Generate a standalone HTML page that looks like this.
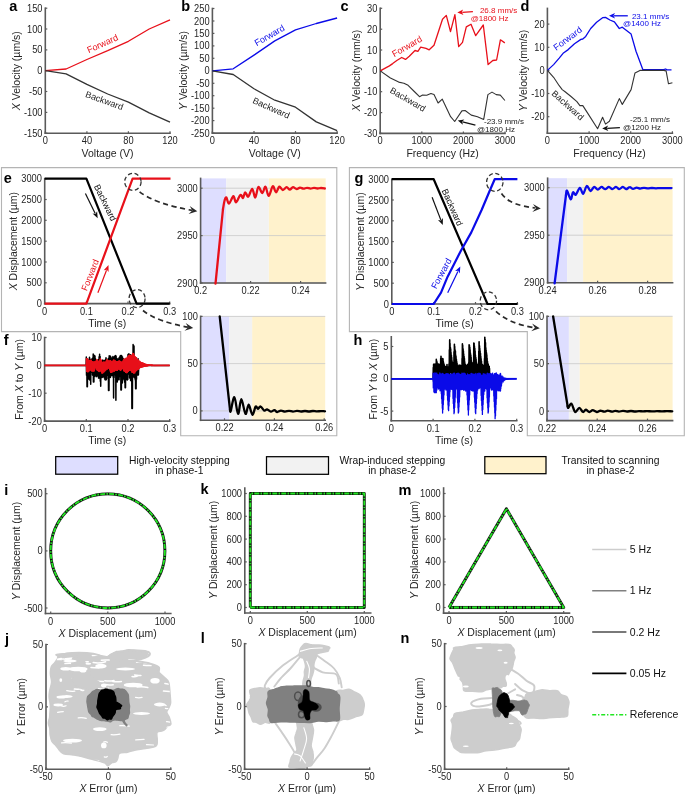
<!DOCTYPE html>
<html><head><meta charset="utf-8"><style>
html,body{margin:0;padding:0;background:#fff;width:685px;height:797px;overflow:hidden}
svg{position:absolute;left:0;top:0;font-family:"Liberation Sans",sans-serif;will-change:transform}
</style></head><body>
<svg width="685" height="797" viewBox="0 0 685 797">
<line x1="45.3" y1="133.2" x2="170" y2="133.2" stroke="#5a5a5a" stroke-width="1.6" stroke-linecap="square"/>
<line x1="45.3" y1="133.2" x2="45.3" y2="8.2" stroke="#5a5a5a" stroke-width="1.6" stroke-linecap="square"/>
<line x1="45.3" y1="133.2" x2="45.3" y2="131.2" stroke="#5a5a5a" stroke-width="1.2"/>
<text x="0" y="0" font-size="9.3" text-anchor="middle" fill="#262626" transform="translate(45.3 144.2) scale(1 1.11)">0</text>
<line x1="86.9" y1="133.2" x2="86.9" y2="131.2" stroke="#5a5a5a" stroke-width="1.2"/>
<text x="0" y="0" font-size="9.3" text-anchor="middle" fill="#262626" transform="translate(86.9 144.2) scale(1 1.11)">40</text>
<line x1="128.4" y1="133.2" x2="128.4" y2="131.2" stroke="#5a5a5a" stroke-width="1.2"/>
<text x="0" y="0" font-size="9.3" text-anchor="middle" fill="#262626" transform="translate(128.4 144.2) scale(1 1.11)">80</text>
<line x1="170" y1="133.2" x2="170" y2="131.2" stroke="#5a5a5a" stroke-width="1.2"/>
<text x="0" y="0" font-size="9.3" text-anchor="middle" fill="#262626" transform="translate(170 144.2) scale(1 1.11)">120</text>
<line x1="45.3" y1="133.2" x2="47.3" y2="133.2" stroke="#5a5a5a" stroke-width="1.2"/>
<text x="0" y="0" font-size="9.3" text-anchor="end" fill="#262626" transform="translate(42.5 136.7) scale(1 1.11)">-150</text>
<line x1="45.3" y1="112.4" x2="47.3" y2="112.4" stroke="#5a5a5a" stroke-width="1.2"/>
<text x="0" y="0" font-size="9.3" text-anchor="end" fill="#262626" transform="translate(42.5 115.9) scale(1 1.11)">-100</text>
<line x1="45.3" y1="91.5" x2="47.3" y2="91.5" stroke="#5a5a5a" stroke-width="1.2"/>
<text x="0" y="0" font-size="9.3" text-anchor="end" fill="#262626" transform="translate(42.5 95) scale(1 1.11)">-50</text>
<line x1="45.3" y1="70.7" x2="47.3" y2="70.7" stroke="#5a5a5a" stroke-width="1.2"/>
<text x="0" y="0" font-size="9.3" text-anchor="end" fill="#262626" transform="translate(42.5 74.2) scale(1 1.11)">0</text>
<line x1="45.3" y1="49.9" x2="47.3" y2="49.9" stroke="#5a5a5a" stroke-width="1.2"/>
<text x="0" y="0" font-size="9.3" text-anchor="end" fill="#262626" transform="translate(42.5 53.4) scale(1 1.11)">50</text>
<line x1="45.3" y1="29" x2="47.3" y2="29" stroke="#5a5a5a" stroke-width="1.2"/>
<text x="0" y="0" font-size="9.3" text-anchor="end" fill="#262626" transform="translate(42.5 32.5) scale(1 1.11)">100</text>
<line x1="45.3" y1="8.2" x2="47.3" y2="8.2" stroke="#5a5a5a" stroke-width="1.2"/>
<text x="0" y="0" font-size="9.3" text-anchor="end" fill="#262626" transform="translate(42.5 11.7) scale(1 1.11)">150</text>
<text x="107.6" y="157" font-size="10.5" text-anchor="middle" fill="#262626">Voltage (V)</text>
<text x="0" y="0" font-size="10.5" text-anchor="middle" fill="#262626" transform="translate(20 70.7) rotate(-90)"><tspan font-style="italic">X</tspan> Velocity (µm/s)</text>
<text x="9.2" y="10.8" font-size="14.5" font-weight="bold" fill="#000">a</text>
<path d="M45.3 70.7 L66.1 69 L86.9 59.5 L107.7 50.7 L128.4 41.3 L149.2 29 L170 19.9" fill="none" stroke="#e8101a" stroke-width="1.3" stroke-linejoin="round"/>
<path d="M45.3 70.7 L66.1 73.8 L86.9 84.4 L107.7 94 L128.4 102.2 L149.2 112.8 L170 122.2" fill="none" stroke="#333333" stroke-width="1.3" stroke-linejoin="round"/>
<text x="0" y="0" font-size="9" text-anchor="middle" fill="#e8101a" transform="translate(103.8 46.5) rotate(-24)">Forward</text>
<text x="0" y="0" font-size="9" text-anchor="middle" fill="#222" transform="translate(103.3 103.5) rotate(20)">Backward</text>
<line x1="212.4" y1="133.1" x2="337.1" y2="133.1" stroke="#5a5a5a" stroke-width="1.6" stroke-linecap="square"/>
<line x1="212.4" y1="133.1" x2="212.4" y2="8.5" stroke="#5a5a5a" stroke-width="1.6" stroke-linecap="square"/>
<line x1="212.4" y1="133.1" x2="212.4" y2="131.1" stroke="#5a5a5a" stroke-width="1.2"/>
<text x="0" y="0" font-size="9.3" text-anchor="middle" fill="#262626" transform="translate(212.4 144.1) scale(1 1.11)">0</text>
<line x1="254" y1="133.1" x2="254" y2="131.1" stroke="#5a5a5a" stroke-width="1.2"/>
<text x="0" y="0" font-size="9.3" text-anchor="middle" fill="#262626" transform="translate(254 144.1) scale(1 1.11)">40</text>
<line x1="295.5" y1="133.1" x2="295.5" y2="131.1" stroke="#5a5a5a" stroke-width="1.2"/>
<text x="0" y="0" font-size="9.3" text-anchor="middle" fill="#262626" transform="translate(295.5 144.1) scale(1 1.11)">80</text>
<line x1="337.1" y1="133.1" x2="337.1" y2="131.1" stroke="#5a5a5a" stroke-width="1.2"/>
<text x="0" y="0" font-size="9.3" text-anchor="middle" fill="#262626" transform="translate(337.1 144.1) scale(1 1.11)">120</text>
<line x1="212.4" y1="133.1" x2="214.4" y2="133.1" stroke="#5a5a5a" stroke-width="1.2"/>
<text x="0" y="0" font-size="9.3" text-anchor="end" fill="#262626" transform="translate(209.6 136.6) scale(1 1.11)">-250</text>
<line x1="212.4" y1="120.6" x2="214.4" y2="120.6" stroke="#5a5a5a" stroke-width="1.2"/>
<text x="0" y="0" font-size="9.3" text-anchor="end" fill="#262626" transform="translate(209.6 124.1) scale(1 1.11)">-200</text>
<line x1="212.4" y1="108.2" x2="214.4" y2="108.2" stroke="#5a5a5a" stroke-width="1.2"/>
<text x="0" y="0" font-size="9.3" text-anchor="end" fill="#262626" transform="translate(209.6 111.7) scale(1 1.11)">-150</text>
<line x1="212.4" y1="95.7" x2="214.4" y2="95.7" stroke="#5a5a5a" stroke-width="1.2"/>
<text x="0" y="0" font-size="9.3" text-anchor="end" fill="#262626" transform="translate(209.6 99.2) scale(1 1.11)">-100</text>
<line x1="212.4" y1="83.3" x2="214.4" y2="83.3" stroke="#5a5a5a" stroke-width="1.2"/>
<text x="0" y="0" font-size="9.3" text-anchor="end" fill="#262626" transform="translate(209.6 86.8) scale(1 1.11)">-50</text>
<line x1="212.4" y1="70.8" x2="214.4" y2="70.8" stroke="#5a5a5a" stroke-width="1.2"/>
<text x="0" y="0" font-size="9.3" text-anchor="end" fill="#262626" transform="translate(209.6 74.3) scale(1 1.11)">0</text>
<line x1="212.4" y1="58.3" x2="214.4" y2="58.3" stroke="#5a5a5a" stroke-width="1.2"/>
<text x="0" y="0" font-size="9.3" text-anchor="end" fill="#262626" transform="translate(209.6 61.8) scale(1 1.11)">50</text>
<line x1="212.4" y1="45.9" x2="214.4" y2="45.9" stroke="#5a5a5a" stroke-width="1.2"/>
<text x="0" y="0" font-size="9.3" text-anchor="end" fill="#262626" transform="translate(209.6 49.4) scale(1 1.11)">100</text>
<line x1="212.4" y1="33.4" x2="214.4" y2="33.4" stroke="#5a5a5a" stroke-width="1.2"/>
<text x="0" y="0" font-size="9.3" text-anchor="end" fill="#262626" transform="translate(209.6 36.9) scale(1 1.11)">150</text>
<line x1="212.4" y1="21" x2="214.4" y2="21" stroke="#5a5a5a" stroke-width="1.2"/>
<text x="0" y="0" font-size="9.3" text-anchor="end" fill="#262626" transform="translate(209.6 24.5) scale(1 1.11)">200</text>
<line x1="212.4" y1="8.5" x2="214.4" y2="8.5" stroke="#5a5a5a" stroke-width="1.2"/>
<text x="0" y="0" font-size="9.3" text-anchor="end" fill="#262626" transform="translate(209.6 12) scale(1 1.11)">250</text>
<text x="274.7" y="157" font-size="10.5" text-anchor="middle" fill="#262626">Voltage (V)</text>
<text x="0" y="0" font-size="10.5" text-anchor="middle" fill="#262626" transform="translate(187 70.5) rotate(-90)"><tspan font-style="italic">Y</tspan> Velocity (µm/s)</text>
<text x="181.3" y="11" font-size="14.5" font-weight="bold" fill="#000">b</text>
<path d="M212.4 70.8 L233.2 68.8 L254 55.1 L274.8 40.9 L295.5 29.9 L316.3 23.5 L337.1 18" fill="none" stroke="#0a0ae8" stroke-width="1.3" stroke-linejoin="round"/>
<path d="M212.4 70.8 L233.2 74.5 L254 88.7 L274.8 100.2 L295.5 107.2 L316.3 121.9 L337.1 130.6" fill="none" stroke="#333333" stroke-width="1.3" stroke-linejoin="round"/>
<text x="0" y="0" font-size="9" text-anchor="middle" fill="#0a0ae8" transform="translate(271 38) rotate(-30)">Forward</text>
<text x="0" y="0" font-size="9" text-anchor="middle" fill="#222" transform="translate(270 110.8) rotate(24)">Backward</text>
<line x1="380.2" y1="133.4" x2="505" y2="133.4" stroke="#5a5a5a" stroke-width="1.6" stroke-linecap="square"/>
<line x1="380.2" y1="133.4" x2="380.2" y2="8.3" stroke="#5a5a5a" stroke-width="1.6" stroke-linecap="square"/>
<line x1="380.2" y1="133.4" x2="380.2" y2="131.4" stroke="#5a5a5a" stroke-width="1.2"/>
<text x="0" y="0" font-size="9.3" text-anchor="middle" fill="#262626" transform="translate(380.2 144.4) scale(1 1.11)">0</text>
<line x1="421.8" y1="133.4" x2="421.8" y2="131.4" stroke="#5a5a5a" stroke-width="1.2"/>
<text x="0" y="0" font-size="9.3" text-anchor="middle" fill="#262626" transform="translate(421.8 144.4) scale(1 1.11)">1000</text>
<line x1="463.4" y1="133.4" x2="463.4" y2="131.4" stroke="#5a5a5a" stroke-width="1.2"/>
<text x="0" y="0" font-size="9.3" text-anchor="middle" fill="#262626" transform="translate(463.4 144.4) scale(1 1.11)">2000</text>
<line x1="505" y1="133.4" x2="505" y2="131.4" stroke="#5a5a5a" stroke-width="1.2"/>
<text x="0" y="0" font-size="9.3" text-anchor="middle" fill="#262626" transform="translate(505 144.4) scale(1 1.11)">3000</text>
<line x1="380.2" y1="133.4" x2="382.2" y2="133.4" stroke="#5a5a5a" stroke-width="1.2"/>
<text x="0" y="0" font-size="9.3" text-anchor="end" fill="#262626" transform="translate(377.4 136.9) scale(1 1.11)">-30</text>
<line x1="380.2" y1="112.6" x2="382.2" y2="112.6" stroke="#5a5a5a" stroke-width="1.2"/>
<text x="0" y="0" font-size="9.3" text-anchor="end" fill="#262626" transform="translate(377.4 116.1) scale(1 1.11)">-20</text>
<line x1="380.2" y1="91.7" x2="382.2" y2="91.7" stroke="#5a5a5a" stroke-width="1.2"/>
<text x="0" y="0" font-size="9.3" text-anchor="end" fill="#262626" transform="translate(377.4 95.2) scale(1 1.11)">-10</text>
<line x1="380.2" y1="70.9" x2="382.2" y2="70.9" stroke="#5a5a5a" stroke-width="1.2"/>
<text x="0" y="0" font-size="9.3" text-anchor="end" fill="#262626" transform="translate(377.4 74.4) scale(1 1.11)">0</text>
<line x1="380.2" y1="50" x2="382.2" y2="50" stroke="#5a5a5a" stroke-width="1.2"/>
<text x="0" y="0" font-size="9.3" text-anchor="end" fill="#262626" transform="translate(377.4 53.5) scale(1 1.11)">10</text>
<line x1="380.2" y1="29.2" x2="382.2" y2="29.2" stroke="#5a5a5a" stroke-width="1.2"/>
<text x="0" y="0" font-size="9.3" text-anchor="end" fill="#262626" transform="translate(377.4 32.7) scale(1 1.11)">20</text>
<line x1="380.2" y1="8.3" x2="382.2" y2="8.3" stroke="#5a5a5a" stroke-width="1.2"/>
<text x="0" y="0" font-size="9.3" text-anchor="end" fill="#262626" transform="translate(377.4 11.8) scale(1 1.11)">30</text>
<text x="442.6" y="157" font-size="10.5" text-anchor="middle" fill="#262626">Frequency (Hz)</text>
<text x="0" y="0" font-size="10.5" text-anchor="middle" fill="#262626" transform="translate(360 70.5) rotate(-90)"><tspan font-style="italic">X</tspan> Velocity (mm/s)</text>
<text x="340.5" y="10.8" font-size="14.5" font-weight="bold" fill="#000">c</text>
<path d="M380.2 70.9 L384.8 68.4 L389.4 65.9 L392.7 63.6 L396.8 60.5 L401.7 57.5 L405.5 59.4 L409.3 56.3 L415 50.5 L417.9 51.3 L420.7 47.1 L426 48.4 L429.2 49.8 L434 45.2 L442.5 19.2 L446.3 15.4 L450.5 31.7 L454.9 14.6 L458.7 46.7 L462.5 42.3 L466.3 26.9 L471 24.2 L475.7 35.7 L483.3 25 L488.1 64.6 L492.8 60.5 L496.6 60 L500.4 39.8 L504.8 42.9" fill="none" stroke="#e8101a" stroke-width="1.3" stroke-linejoin="round"/>
<path d="M380.2 70.9 L390.4 78 L398.7 82.1 L403.9 83.2 L408.1 85.3 L414.3 91.5 L419.5 96.7 L422.6 95.1 L426.7 95.3 L430.9 93.6 L434 94.6 L438.1 103 L442.3 99.2 L450.6 116.7 L454.7 121.5 L461.9 110.9 L465.1 110.5 L471.3 115.1 L477.5 116.7 L483.7 119.4 L487.9 94.6 L492 92.1 L496.2 94.6 L500.3 95.1 L504.9 100.5" fill="none" stroke="#333333" stroke-width="1.1" stroke-linejoin="round"/>
<text x="0" y="0" font-size="9" text-anchor="middle" fill="#e8101a" transform="translate(408.5 48.9) rotate(-30)">Forward</text>
<text x="0" y="0" font-size="9" text-anchor="middle" fill="#222" transform="translate(406.3 102.2) rotate(30)">Backward</text>
<line x1="472.9" y1="11.6" x2="462.3" y2="12.3" stroke="#e8101a" stroke-width="1.3"/>
<path d="M457.3 12.6 L463.1 9.4 L461.8 12.3 L463.5 15 Z" fill="#e8101a"/>
<text x="498.6" y="13" font-size="8" text-anchor="middle" fill="#e8101a">26.8 mm/s</text>
<text x="489.6" y="21" font-size="8" text-anchor="middle" fill="#e8101a">@1800 Hz</text>
<line x1="475.4" y1="125.1" x2="462.6" y2="121.8" stroke="#111" stroke-width="1.3"/>
<path d="M457.8 120.6 L464.3 119.4 L462.2 121.7 L462.9 124.8 Z" fill="#111"/>
<text x="484" y="123.8" font-size="8" text-anchor="start" fill="#222">-23.9 mm/s</text>
<text x="477" y="131.6" font-size="8" text-anchor="start" fill="#222">@1800 Hz</text>
<line x1="547.4" y1="133.2" x2="672.4" y2="133.2" stroke="#5a5a5a" stroke-width="1.6" stroke-linecap="square"/>
<line x1="547.4" y1="133.2" x2="547.4" y2="8.4" stroke="#5a5a5a" stroke-width="1.6" stroke-linecap="square"/>
<line x1="547.4" y1="133.2" x2="547.4" y2="131.2" stroke="#5a5a5a" stroke-width="1.2"/>
<text x="0" y="0" font-size="9.3" text-anchor="middle" fill="#262626" transform="translate(547.4 144.2) scale(1 1.11)">0</text>
<line x1="589.1" y1="133.2" x2="589.1" y2="131.2" stroke="#5a5a5a" stroke-width="1.2"/>
<text x="0" y="0" font-size="9.3" text-anchor="middle" fill="#262626" transform="translate(589.1 144.2) scale(1 1.11)">1000</text>
<line x1="630.7" y1="133.2" x2="630.7" y2="131.2" stroke="#5a5a5a" stroke-width="1.2"/>
<text x="0" y="0" font-size="9.3" text-anchor="middle" fill="#262626" transform="translate(630.7 144.2) scale(1 1.11)">2000</text>
<line x1="672.4" y1="133.2" x2="672.4" y2="131.2" stroke="#5a5a5a" stroke-width="1.2"/>
<text x="0" y="0" font-size="9.3" text-anchor="middle" fill="#262626" transform="translate(672.4 144.2) scale(1 1.11)">3000</text>
<line x1="547.4" y1="116.7" x2="549.4" y2="116.7" stroke="#5a5a5a" stroke-width="1.2"/>
<text x="0" y="0" font-size="9.3" text-anchor="end" fill="#262626" transform="translate(544.6 120.2) scale(1 1.11)">-20</text>
<line x1="547.4" y1="93.5" x2="549.4" y2="93.5" stroke="#5a5a5a" stroke-width="1.2"/>
<text x="0" y="0" font-size="9.3" text-anchor="end" fill="#262626" transform="translate(544.6 97) scale(1 1.11)">-10</text>
<line x1="547.4" y1="70.4" x2="549.4" y2="70.4" stroke="#5a5a5a" stroke-width="1.2"/>
<text x="0" y="0" font-size="9.3" text-anchor="end" fill="#262626" transform="translate(544.6 73.9) scale(1 1.11)">0</text>
<line x1="547.4" y1="47.3" x2="549.4" y2="47.3" stroke="#5a5a5a" stroke-width="1.2"/>
<text x="0" y="0" font-size="9.3" text-anchor="end" fill="#262626" transform="translate(544.6 50.8) scale(1 1.11)">10</text>
<line x1="547.4" y1="24.1" x2="549.4" y2="24.1" stroke="#5a5a5a" stroke-width="1.2"/>
<text x="0" y="0" font-size="9.3" text-anchor="end" fill="#262626" transform="translate(544.6 27.6) scale(1 1.11)">20</text>
<text x="609.5" y="157" font-size="10.5" text-anchor="middle" fill="#262626">Frequency (Hz)</text>
<text x="0" y="0" font-size="10.5" text-anchor="middle" fill="#262626" transform="translate(527.2 70.5) rotate(-90)"><tspan font-style="italic">Y</tspan> Velocity (mm/s)</text>
<text x="520.5" y="10.8" font-size="14.5" font-weight="bold" fill="#000">d</text>
<path d="M547.4 70.4 L553.6 64.6 L559.2 58.1 L563.1 53.3 L568.2 49.6 L574.5 43.8 L580.9 39.4 L582.8 39 L585.7 36.4 L590.7 28.5 L596.6 22.3 L602.6 17.7 L605.5 17.4 L609.9 20 L614.4 21.8 L619.3 28.5 L622.3 27.2 L631.1 34.1 L636 51.2 L642.9 69.7 L663.6 69.7 L665.6 69 L667 69.9 L671.5 69.9" fill="none" stroke="#0a0ae8" stroke-width="1.3" stroke-linejoin="round"/>
<path d="M547.4 70.4 L553.6 77.3 L559.2 85.7 L562.2 89.6 L565.1 91.7 L571 96.5 L576.9 101.6 L579.9 105.6 L582.8 105.6 L587.8 113.4 L597.6 128.7 L602.6 117.3 L605.5 124.1 L609.4 121.3 L619.3 98.6 L622.3 104.4 L631.1 89.6 L635 72.9 L639.9 70.4 L663.6 70.4 L666.1 70.9 L668.5 83.8 L672.4 82.7" fill="none" stroke="#333333" stroke-width="1.1" stroke-linejoin="round"/>
<text x="0" y="0" font-size="9" text-anchor="middle" fill="#0a0ae8" transform="translate(569.5 41) rotate(-37)">Forward</text>
<text x="0" y="0" font-size="9" text-anchor="middle" fill="#222" transform="translate(565.8 107.5) rotate(42)">Backward</text>
<line x1="627.8" y1="15.8" x2="614" y2="15.8" stroke="#0a0ae8" stroke-width="1.3"/>
<path d="M609 15.8 L615 13 L613.5 15.8 L615 18.6 Z" fill="#0a0ae8"/>
<text x="650.6" y="18.6" font-size="8" text-anchor="middle" fill="#0a0ae8">23.1 mm/s</text>
<text x="642" y="26.4" font-size="8" text-anchor="middle" fill="#0a0ae8">@1400 Hz</text>
<line x1="619.9" y1="127.7" x2="607.2" y2="128.3" stroke="#111" stroke-width="1.3"/>
<path d="M602.2 128.5 L608.1 125.4 L606.7 128.3 L608.3 131 Z" fill="#111"/>
<text x="650" y="121.6" font-size="8" text-anchor="middle" fill="#222">-25.1 mm/s</text>
<text x="642" y="129.6" font-size="8" text-anchor="middle" fill="#222">@1200 Hz</text>
<path d="M1.5 167.6 H336.8 V435.8 H180.7 V331.6 H1.5 Z" fill="none" stroke="#b4b4b4" stroke-width="1.1"/>
<path d="M349.4 167.6 H684.3 V435.8 H527.3 V331.6 H349.4 Z" fill="none" stroke="#b4b4b4" stroke-width="1.1"/>
<line x1="44.7" y1="303.6" x2="169.7" y2="303.6" stroke="#5a5a5a" stroke-width="1.6" stroke-linecap="square"/>
<line x1="44.7" y1="303.6" x2="44.7" y2="178.7" stroke="#5a5a5a" stroke-width="1.6" stroke-linecap="square"/>
<line x1="44.7" y1="303.6" x2="44.7" y2="301.6" stroke="#5a5a5a" stroke-width="1.2"/>
<text x="0" y="0" font-size="9.3" text-anchor="middle" fill="#262626" transform="translate(44.7 314.6) scale(1 1.11)">0</text>
<line x1="86.4" y1="303.6" x2="86.4" y2="301.6" stroke="#5a5a5a" stroke-width="1.2"/>
<text x="0" y="0" font-size="9.3" text-anchor="middle" fill="#262626" transform="translate(86.4 314.6) scale(1 1.11)">0.1</text>
<line x1="128" y1="303.6" x2="128" y2="301.6" stroke="#5a5a5a" stroke-width="1.2"/>
<text x="0" y="0" font-size="9.3" text-anchor="middle" fill="#262626" transform="translate(128 314.6) scale(1 1.11)">0.2</text>
<line x1="169.7" y1="303.6" x2="169.7" y2="301.6" stroke="#5a5a5a" stroke-width="1.2"/>
<text x="0" y="0" font-size="9.3" text-anchor="middle" fill="#262626" transform="translate(169.7 314.6) scale(1 1.11)">0.3</text>
<line x1="44.7" y1="303.6" x2="46.7" y2="303.6" stroke="#5a5a5a" stroke-width="1.2"/>
<text x="0" y="0" font-size="9.3" text-anchor="end" fill="#262626" transform="translate(41.9 307.1) scale(1 1.11)">0</text>
<line x1="44.7" y1="282.8" x2="46.7" y2="282.8" stroke="#5a5a5a" stroke-width="1.2"/>
<text x="0" y="0" font-size="9.3" text-anchor="end" fill="#262626" transform="translate(41.9 286.3) scale(1 1.11)">500</text>
<line x1="44.7" y1="262" x2="46.7" y2="262" stroke="#5a5a5a" stroke-width="1.2"/>
<text x="0" y="0" font-size="9.3" text-anchor="end" fill="#262626" transform="translate(41.9 265.5) scale(1 1.11)">1000</text>
<line x1="44.7" y1="241.2" x2="46.7" y2="241.2" stroke="#5a5a5a" stroke-width="1.2"/>
<text x="0" y="0" font-size="9.3" text-anchor="end" fill="#262626" transform="translate(41.9 244.7) scale(1 1.11)">1500</text>
<line x1="44.7" y1="220.3" x2="46.7" y2="220.3" stroke="#5a5a5a" stroke-width="1.2"/>
<text x="0" y="0" font-size="9.3" text-anchor="end" fill="#262626" transform="translate(41.9 223.8) scale(1 1.11)">2000</text>
<line x1="44.7" y1="199.5" x2="46.7" y2="199.5" stroke="#5a5a5a" stroke-width="1.2"/>
<text x="0" y="0" font-size="9.3" text-anchor="end" fill="#262626" transform="translate(41.9 203) scale(1 1.11)">2500</text>
<line x1="44.7" y1="178.7" x2="46.7" y2="178.7" stroke="#5a5a5a" stroke-width="1.2"/>
<text x="0" y="0" font-size="9.3" text-anchor="end" fill="#262626" transform="translate(41.9 182.2) scale(1 1.11)">3000</text>
<text x="107.2" y="327" font-size="10.5" text-anchor="middle" fill="#262626">Time (s)</text>
<text x="0" y="0" font-size="10.5" text-anchor="middle" fill="#262626" transform="translate(17 241.2) rotate(-90)"><tspan font-style="italic">X</tspan> Displacement (µm)</text>
<text x="3.8" y="182.6" font-size="14.5" font-weight="bold" fill="#000">e</text>
<path d="M44.7 178.7 L86.4 178.7 L136.6 303.6 L169.7 303.6" fill="none" stroke="#000" stroke-width="2.2" stroke-linejoin="round"/>
<path d="M44.7 303.6 L86.4 303.6 L132.6 178.7 L170.5 178.7" fill="none" stroke="#e8101a" stroke-width="2.2" stroke-linejoin="round"/>
<line x1="85.4" y1="193.6" x2="95.2" y2="213.4" stroke="#111" stroke-width="1.2"/>
<path d="M97.7 218.3 L92.5 213.6 L95.5 213.9 L97.1 211.3 Z" fill="#111"/>
<line x1="97.9" y1="292.7" x2="106.5" y2="270.2" stroke="#e8101a" stroke-width="1.2"/>
<path d="M108.5 265.1 L108.6 272.1 L106.8 269.7 L103.7 270.2 Z" fill="#e8101a"/>
<text x="0" y="0" font-size="9" text-anchor="middle" fill="#111" transform="translate(102.5 204.1) rotate(64)">Backward</text>
<text x="0" y="0" font-size="9" text-anchor="middle" fill="#e8101a" transform="translate(93 276.2) rotate(-68)">Forward</text>
<ellipse cx="132.9" cy="181.8" rx="8.2" ry="8.5" fill="none" stroke="#333" stroke-width="1.3" stroke-dasharray="4.2 2.6"/>
<ellipse cx="137.1" cy="298.6" rx="8" ry="9" fill="none" stroke="#333" stroke-width="1.3" stroke-dasharray="4.2 2.6"/>
<path d="M139.6 191.8 C 150 200, 168 206, 192 210.4" fill="none" stroke="#2a2a2a" stroke-width="1.7" stroke-dasharray="5.2 3.6"/>
<path d="M197.3 211.2 L188.6 214 L192.4 210.5 L189.7 206.1 Z" fill="#2a2a2a"/>
<path d="M143 310.5 C 152 318, 168 323.5, 188 327.2" fill="none" stroke="#2a2a2a" stroke-width="1.7" stroke-dasharray="5.2 3.6"/>
<path d="M193.2 328.1 L184.5 330.8 L188.3 327.3 L185.7 322.9 Z" fill="#2a2a2a"/>
<rect x="200.6" y="178.4" width="25.7" height="104.6" fill="#dedeff" stroke="none" stroke-width="1"/>
<rect x="226.3" y="178.4" width="42.5" height="104.6" fill="#f2f2f2" stroke="none" stroke-width="1"/>
<rect x="268.9" y="178.4" width="56.8" height="104.6" fill="#fff2cc" stroke="none" stroke-width="1"/>
<line x1="200.6" y1="283" x2="325.6" y2="283" stroke="#c8c8c8" stroke-width="0.8"/>
<line x1="200.6" y1="235.6" x2="325.6" y2="235.6" stroke="#c8c8c8" stroke-width="0.8"/>
<line x1="200.6" y1="188.2" x2="325.6" y2="188.2" stroke="#c8c8c8" stroke-width="0.8"/>
<line x1="200.6" y1="283" x2="325.6" y2="283" stroke="#5a5a5a" stroke-width="1.6" stroke-linecap="square"/>
<line x1="200.6" y1="283" x2="200.6" y2="178.4" stroke="#5a5a5a" stroke-width="1.6" stroke-linecap="square"/>
<line x1="200.6" y1="283" x2="200.6" y2="281" stroke="#5a5a5a" stroke-width="1.2"/>
<text x="0" y="0" font-size="9.3" text-anchor="middle" fill="#262626" transform="translate(200.6 294) scale(1 1.11)">0.2</text>
<line x1="250.6" y1="283" x2="250.6" y2="281" stroke="#5a5a5a" stroke-width="1.2"/>
<text x="0" y="0" font-size="9.3" text-anchor="middle" fill="#262626" transform="translate(250.6 294) scale(1 1.11)">0.22</text>
<line x1="300.6" y1="283" x2="300.6" y2="281" stroke="#5a5a5a" stroke-width="1.2"/>
<text x="0" y="0" font-size="9.3" text-anchor="middle" fill="#262626" transform="translate(300.6 294) scale(1 1.11)">0.24</text>
<line x1="200.6" y1="283" x2="202.6" y2="283" stroke="#5a5a5a" stroke-width="1.2"/>
<text x="0" y="0" font-size="9.3" text-anchor="end" fill="#262626" transform="translate(197.8 286.5) scale(1 1.11)">2900</text>
<line x1="200.6" y1="235.6" x2="202.6" y2="235.6" stroke="#5a5a5a" stroke-width="1.2"/>
<text x="0" y="0" font-size="9.3" text-anchor="end" fill="#262626" transform="translate(197.8 239.1) scale(1 1.11)">2950</text>
<line x1="200.6" y1="188.2" x2="202.6" y2="188.2" stroke="#5a5a5a" stroke-width="1.2"/>
<text x="0" y="0" font-size="9.3" text-anchor="end" fill="#262626" transform="translate(197.8 191.7) scale(1 1.11)">3000</text>
<line x1="215.5" y1="283.6" x2="223" y2="209" stroke="#e8101a" stroke-width="2.3" stroke-linecap="round"/>
<path d="M223 209 C223.3 207.6 224 202.4 224.6 200.5 C225.2 198.6 225.7 197 226.4 197.5 C227.1 198 227.8 203.8 229 203.6 C230.2 203.4 232.2 196.4 233.4 196.2 C234.6 196 234.8 202.5 236 202.3 C237.2 202.1 239.2 195.6 240.4 194.9 C241.6 194.2 242.2 198.4 243 198 C243.8 197.6 244.3 192.5 245.2 192.3 C246.1 192.1 247.1 197.2 248.3 196.6 C249.5 196 251 188.7 252.2 188.8 C253.4 189 254.3 197.8 255.3 197.5 C256.3 197.2 257.2 187.7 258.4 187 C259.6 186.3 261.1 193.2 262.3 193.1 C263.5 193 264.4 186.2 265.5 186.7 C266.6 187.2 267.5 196 268.7 195.9 C269.9 195.8 271.6 186.9 272.8 186.3 C274 185.7 274.9 192.2 276 192.3 C277.1 192.4 278.2 187.1 279.3 186.7 C280.4 186.3 281.7 189.9 282.9 190 C284.1 190.1 285.5 187.3 286.6 187.2 C287.8 187.1 288.7 189.5 289.8 189.5 C290.9 189.5 291.9 187.3 293 187.2 C294.1 187.1 295.5 188.9 296.7 189 C297.9 189.1 298.9 187.7 300 187.6 C301.1 187.5 302.3 188.7 303.5 188.7 C304.7 188.7 305.8 187.8 307 187.8 C308.2 187.8 309.3 188.6 310.5 188.6 C311.7 188.6 312.8 187.9 314 187.9 C315.2 187.9 316.3 188.5 317.5 188.5 C318.7 188.5 319.8 188 321 188 C322.2 188 324.2 188.4 324.8 188.5" fill="none" stroke="#e8101a" stroke-width="2.3" stroke-linejoin="round" stroke-linecap="round"/>
<rect x="200.6" y="316.2" width="28.7" height="104.1" fill="#dedeff" stroke="none" stroke-width="1"/>
<rect x="229.3" y="316.2" width="22.9" height="104.1" fill="#f2f2f2" stroke="none" stroke-width="1"/>
<rect x="252.2" y="316.2" width="73" height="104.1" fill="#fff2cc" stroke="none" stroke-width="1"/>
<line x1="200.6" y1="410.9" x2="325.2" y2="410.9" stroke="#c8c8c8" stroke-width="0.8"/>
<line x1="200.6" y1="363.6" x2="325.2" y2="363.6" stroke="#c8c8c8" stroke-width="0.8"/>
<line x1="200.6" y1="316.4" x2="325.2" y2="316.4" stroke="#c8c8c8" stroke-width="0.8"/>
<line x1="200.6" y1="420.3" x2="325.2" y2="420.3" stroke="#5a5a5a" stroke-width="1.6" stroke-linecap="square"/>
<line x1="200.6" y1="420.3" x2="200.6" y2="316.4" stroke="#5a5a5a" stroke-width="1.6" stroke-linecap="square"/>
<line x1="224.5" y1="420.3" x2="224.5" y2="418.3" stroke="#5a5a5a" stroke-width="1.2"/>
<text x="0" y="0" font-size="9.3" text-anchor="middle" fill="#262626" transform="translate(224.5 431.3) scale(1 1.11)">0.22</text>
<line x1="274.4" y1="420.3" x2="274.4" y2="418.3" stroke="#5a5a5a" stroke-width="1.2"/>
<text x="0" y="0" font-size="9.3" text-anchor="middle" fill="#262626" transform="translate(274.4 431.3) scale(1 1.11)">0.24</text>
<line x1="324.2" y1="420.3" x2="324.2" y2="418.3" stroke="#5a5a5a" stroke-width="1.2"/>
<text x="0" y="0" font-size="9.3" text-anchor="middle" fill="#262626" transform="translate(324.2 431.3) scale(1 1.11)">0.26</text>
<line x1="200.6" y1="410.9" x2="202.6" y2="410.9" stroke="#5a5a5a" stroke-width="1.2"/>
<text x="0" y="0" font-size="9.3" text-anchor="end" fill="#262626" transform="translate(197.8 414.4) scale(1 1.11)">0</text>
<line x1="200.6" y1="363.6" x2="202.6" y2="363.6" stroke="#5a5a5a" stroke-width="1.2"/>
<text x="0" y="0" font-size="9.3" text-anchor="end" fill="#262626" transform="translate(197.8 367.1) scale(1 1.11)">50</text>
<line x1="200.6" y1="316.4" x2="202.6" y2="316.4" stroke="#5a5a5a" stroke-width="1.2"/>
<text x="0" y="0" font-size="9.3" text-anchor="end" fill="#262626" transform="translate(197.8 319.9) scale(1 1.11)">100</text>
<line x1="219.7" y1="316.4" x2="230" y2="409.5" stroke="#000" stroke-width="2.3" stroke-linecap="round"/>
<path d="M230 409.5 C230.1 409.8 230 413.1 230.7 411.1 C231.4 409.1 233.2 396.8 234.4 397.3 C235.6 397.8 236.9 413.6 238.1 413.9 C239.2 414.2 240.1 399.1 241.3 399.1 C242.5 399.1 244.3 413 245.5 413.9 C246.7 414.8 247.5 404.5 248.7 404.7 C249.8 404.9 251.2 414.5 252.4 414.8 C253.6 415.1 254.7 407.5 255.6 406.5 C256.5 405.5 257.1 408.8 257.9 408.8 C258.7 408.8 259.5 406.2 260.6 406.5 C261.7 406.8 263.2 410.1 264.3 410.6 C265.4 411.1 266 409.1 267.1 409.3 C268.2 409.5 269.6 411.5 270.8 411.6 C272 411.8 273.3 410.1 274.4 410.2 C275.5 410.3 276.1 411.9 277.2 412 C278.3 412.1 279.6 410.7 280.9 410.6 C282.2 410.5 283.6 411.6 285 411.6 C286.4 411.6 287.7 410.8 289 410.8 C290.3 410.8 291.7 411.6 293 411.6 C294.3 411.6 295.7 410.9 297 410.9 C298.3 410.9 299.7 411.5 301 411.5 C302.3 411.5 303.7 411 305 411 C306.3 411 307.7 411.5 309 411.5 C310.3 411.5 311.7 411 313 411 C314.3 411 315.7 411.4 317 411.4 C318.3 411.4 319.7 411.1 321 411.1 C322.3 411.1 324.3 411.3 325 411.3" fill="none" stroke="#000" stroke-width="2.3" stroke-linejoin="round" stroke-linecap="round"/>
<line x1="44.6" y1="421.1" x2="169.7" y2="421.1" stroke="#5a5a5a" stroke-width="1.6" stroke-linecap="square"/>
<line x1="44.6" y1="421.1" x2="44.6" y2="337.5" stroke="#5a5a5a" stroke-width="1.6" stroke-linecap="square"/>
<line x1="44.6" y1="421.1" x2="44.6" y2="419.1" stroke="#5a5a5a" stroke-width="1.2"/>
<text x="0" y="0" font-size="9.3" text-anchor="middle" fill="#262626" transform="translate(44.6 432.1) scale(1 1.11)">0</text>
<line x1="86.3" y1="421.1" x2="86.3" y2="419.1" stroke="#5a5a5a" stroke-width="1.2"/>
<text x="0" y="0" font-size="9.3" text-anchor="middle" fill="#262626" transform="translate(86.3 432.1) scale(1 1.11)">0.1</text>
<line x1="128" y1="421.1" x2="128" y2="419.1" stroke="#5a5a5a" stroke-width="1.2"/>
<text x="0" y="0" font-size="9.3" text-anchor="middle" fill="#262626" transform="translate(128 432.1) scale(1 1.11)">0.2</text>
<line x1="169.7" y1="421.1" x2="169.7" y2="419.1" stroke="#5a5a5a" stroke-width="1.2"/>
<text x="0" y="0" font-size="9.3" text-anchor="middle" fill="#262626" transform="translate(169.7 432.1) scale(1 1.11)">0.3</text>
<line x1="44.6" y1="421.1" x2="46.6" y2="421.1" stroke="#5a5a5a" stroke-width="1.2"/>
<text x="0" y="0" font-size="9.3" text-anchor="end" fill="#262626" transform="translate(41.8 424.6) scale(1 1.11)">-20</text>
<line x1="44.6" y1="393.2" x2="46.6" y2="393.2" stroke="#5a5a5a" stroke-width="1.2"/>
<text x="0" y="0" font-size="9.3" text-anchor="end" fill="#262626" transform="translate(41.8 396.7) scale(1 1.11)">-10</text>
<line x1="44.6" y1="365.4" x2="46.6" y2="365.4" stroke="#5a5a5a" stroke-width="1.2"/>
<text x="0" y="0" font-size="9.3" text-anchor="end" fill="#262626" transform="translate(41.8 368.9) scale(1 1.11)">0</text>
<line x1="44.6" y1="337.5" x2="46.6" y2="337.5" stroke="#5a5a5a" stroke-width="1.2"/>
<text x="0" y="0" font-size="9.3" text-anchor="end" fill="#262626" transform="translate(41.8 341) scale(1 1.11)">10</text>
<text x="107.2" y="444.4" font-size="10.5" text-anchor="middle" fill="#262626">Time (s)</text>
<text x="0" y="0" font-size="10.5" text-anchor="middle" fill="#262626" transform="translate(23 379.3) rotate(-90)">From <tspan font-style="italic">X</tspan> to <tspan font-style="italic">Y</tspan> (µm)</text>
<text x="3.8" y="345" font-size="14.5" font-weight="bold" fill="#000">f</text>
<path d="M44.6 365.4 L86.1 365.4 L86.3 357 L86.5 375.2 L86.8 358.8 L87 386.8 L87.2 359.8 L87.4 386.8 L87.7 361.2 L87.9 376.4 L88.1 360.5 L88.4 379.1 L88.6 360.3 L88.8 377 L89.1 359.1 L89.3 378 L89.5 357.3 L89.7 380 L90 359 L90.2 377 L90.4 360.1 L90.7 384.3 L90.9 360.5 L91.1 371.3 L91.3 359.8 L91.6 371.7 L91.8 359 L92 372.3 L92.3 359.7 L92.5 374.9 L92.7 357.9 L93 375.5 L93.2 354.1 L93.4 381.9 L93.6 355.8 L93.9 382.1 L94.1 355.2 L94.3 376.7 L94.6 356.2 L94.8 374.4 L95 356 L95.2 375.7 L95.5 358.7 L95.7 376.1 L95.9 361 L96.2 376.7 L96.4 361.4 L96.6 375.3 L96.9 361.3 L97.1 375.9 L97.3 361.7 L97.5 375.9 L97.8 360.8 L98 375.9 L98.2 359.7 L98.5 377.9 L98.7 359.8 L98.9 378.3 L99.1 356.7 L99.4 377.2 L99.6 354.3 L99.8 377.7 L100.1 356.6 L100.3 381.2 L100.5 361 L100.7 386.3 L101 361.7 L101.2 377.8 L101.4 361.6 L101.7 375 L101.9 360.7 L102.1 377.6 L102.4 360.6 L102.6 376.6 L102.8 359.9 L103 376.9 L103.3 361.1 L103.5 374.6 L103.7 360.9 L104 376.5 L104.2 361.3 L104.4 378 L104.6 360.4 L104.9 379.5 L105.1 360.6 L105.3 379.9 L105.6 359.2 L105.8 377.2 L106 357.7 L106.3 379.7 L106.5 359.3 L106.7 378.8 L106.9 360.1 L107.2 375.3 L107.4 360.5 L107.6 374.7 L107.9 360.1 L108.1 374.9 L108.3 358.4 L108.5 390.4 L108.8 358.9 L109 390.4 L109.2 355.8 L109.5 377 L109.7 356.6 L109.9 376 L110.2 356.1 L110.4 377.4 L110.6 356.5 L110.8 374.5 L111.1 357.7 L111.3 375.7 L111.5 358.6 L111.8 374.1 L112 357.9 L112.2 372.6 L112.4 357.8 L112.7 375.6 L112.9 356.6 L113.1 377.2 L113.4 357 L113.6 398 L113.8 357.3 L114.1 377.6 L114.3 357.7 L114.5 373.8 L114.7 356.4 L115 374 L115.2 355.6 L115.4 374.7 L115.7 355.9 L115.9 400.2 L116.1 356 L116.3 376.9 L116.6 358.2 L116.8 377.1 L117 360 L117.3 382 L117.5 359 L117.7 380.3 L118 359.3 L118.2 378.9 L118.4 359.8 L118.6 378.7 L118.9 358 L119.1 379.8 L119.3 358 L119.6 376.4 L119.8 356.8 L120 375.1 L120.2 355.8 L120.5 376 L120.7 355.4 L120.9 389.9 L121.2 355.7 L121.4 389.9 L121.6 355.5 L121.8 379.7 L122.1 357.6 L122.3 383.1 L122.5 357.1 L122.8 380 L123 359 L123.2 376.9 L123.5 358.7 L123.7 375.9 L123.9 358.9 L124.1 378.8 L124.4 359.4 L124.6 382.2 L124.8 360.1 L125.1 387.7 L125.3 359.4 L125.5 387.7 L125.7 359.9 L126 375.3 L126.2 359.1 L126.4 375.4 L126.7 359.2 L126.9 379.8 L127.1 360.1 L127.4 380.1 L127.6 359.3 L127.8 379.5 L128 354.5 L128.3 374 L128.5 353.9 L128.7 373 L129 354.1 L129.2 373.7 L129.4 354.3 L129.6 378.1 L129.9 354.7 L130.1 378.1 L130.3 354.8 L130.6 380.4 L130.8 354.8 L131 380.7 L131.3 356.9 L131.5 377.5 L131.7 357.2 L131.9 408.6 L132.2 358.4 L132.4 408.6 L132.6 357.1 L132.9 375.5 L133.1 344.5 L133.3 376.6 L133.5 345.9 L133.8 376.4 L134 345.9 L134.2 377.6 L134.5 359.8 L134.7 378 L134.9 359.5 L135.2 380.1 L135.4 358.5 L135.6 388.8 L135.8 358.7 L136.1 388.8 L136.3 359.7 L136.5 379.3 L136.8 360.3 L137 375.4 L137.2 361.2 L137.4 374.7 L137.7 360.1 L137.9 373.3 L138.1 358.7 L138.4 374.9 L138.8 365.4 L169.7 365.4" fill="none" stroke="#000" stroke-width="1.5" stroke-linejoin="round"/>
<path d="M44.6 365.4 L86.3 365.4 L86.3 358.5 L86.5 370.2 L86.6 358.5 L86.8 372 L87 358.2 L87.1 371.9 L87.3 358.3 L87.5 372.3 L87.6 359.3 L87.8 371.4 L88 359.5 L88.1 371.9 L88.3 359.7 L88.5 372.2 L88.6 360.4 L88.8 371.3 L89 360.2 L89.1 370.7 L89.3 360.9 L89.5 371.2 L89.6 360.1 L89.8 370.3 L90 359.8 L90.1 370.8 L90.3 360 L90.5 370 L90.6 360.2 L90.8 369.9 L91 359.6 L91.1 370.2 L91.3 360.3 L91.5 371.3 L91.6 361.2 L91.8 370.9 L92 361.2 L92.1 371.4 L92.3 361.8 L92.5 371.2 L92.6 361.3 L92.8 371.4 L93 361.9 L93.1 371.3 L93.3 362 L93.5 371.4 L93.6 361.7 L93.8 370.9 L94 361.4 L94.1 371.5 L94.3 362 L94.5 370.5 L94.6 361.7 L94.8 369.9 L95 361.2 L95.1 368.4 L95.3 361.6 L95.5 367.8 L95.6 360.9 L95.8 367.9 L96 360.9 L96.1 368.5 L96.3 360.4 L96.5 369.5 L96.6 359.7 L96.8 369.9 L97 359.4 L97.1 370.6 L97.3 359.7 L97.5 370.8 L97.6 360.3 L97.8 371.1 L98 360.7 L98.1 371 L98.3 361 L98.5 371.5 L98.6 362 L98.8 371.2 L99 361.6 L99.1 372.1 L99.3 360.6 L99.5 371.4 L99.6 360.7 L99.8 371.6 L100 359.3 L100.1 371.1 L100.3 358.2 L100.5 371.1 L100.6 358.6 L100.8 371.5 L101 359.5 L101.1 371.2 L101.3 360 L101.5 371.6 L101.6 361.7 L101.8 373.2 L102 362.5 L102.1 373.7 L102.3 362.2 L102.5 373 L102.6 362.3 L102.8 373.4 L103 361.7 L103.1 372.1 L103.3 361.9 L103.5 372.5 L103.6 361.8 L103.8 372 L104 362.1 L104.1 372.3 L104.3 361.6 L104.5 371.1 L104.6 362.2 L104.8 371.5 L105 361.9 L105.1 370.7 L105.3 362.5 L105.5 370.3 L105.6 361.8 L105.8 370.5 L106 361.4 L106.1 369.3 L106.3 360.4 L106.5 369.3 L106.6 359.8 L106.8 369.6 L107 359.1 L107.1 368.8 L107.3 359.6 L107.5 369.4 L107.7 360.1 L107.8 369 L108 360.3 L108.2 368.5 L108.3 360.5 L108.5 368.2 L108.7 361.4 L108.8 368.4 L109 361.4 L109.2 368.2 L109.3 360.9 L109.5 369.6 L109.7 360.4 L109.8 370.1 L110 360.8 L110.2 371.5 L110.3 360.5 L110.5 372.6 L110.7 360.2 L110.8 372.5 L111 361.2 L111.2 372.9 L111.3 361.3 L111.5 372.5 L111.7 361.1 L111.8 372.7 L112 361.1 L112.2 372.1 L112.3 361.4 L112.5 372 L112.7 361.2 L112.8 372.2 L113 360.5 L113.2 371.2 L113.3 360.5 L113.5 371.4 L113.7 359.6 L113.8 371 L114 359.7 L114.2 371.6 L114.3 360.6 L114.5 371.4 L114.7 360.8 L114.8 370.5 L115 360.6 L115.2 370.3 L115.3 360.5 L115.5 370.4 L115.7 361.1 L115.8 370.7 L116 361.5 L116.2 370.7 L116.3 361.7 L116.5 370.2 L116.7 361.2 L116.8 370.9 L117 361.9 L117.2 370.3 L117.3 361.3 L117.5 370.9 L117.7 361.2 L117.8 370 L118 361.1 L118.2 369.7 L118.3 361.2 L118.5 369.2 L118.7 360.7 L118.8 368.9 L119 360.9 L119.2 368.8 L119.3 360.6 L119.5 369.6 L119.7 360.7 L119.8 369.9 L120 360.9 L120.2 370.6 L120.3 361.2 L120.5 371 L120.7 361.1 L120.8 370.8 L121 361.8 L121.2 369.9 L121.3 362 L121.5 369.3 L121.7 361.7 L121.8 369 L122 361.9 L122.2 368.2 L122.3 362.1 L122.5 368.9 L122.7 361.4 L122.8 369.1 L123 360.7 L123.2 369.6 L123.3 360.2 L123.5 370.5 L123.7 359.4 L123.8 371.3 L124 358.5 L124.2 371.1 L124.3 359.2 L124.5 371.4 L124.7 359.3 L124.8 371.5 L125 359.1 L125.2 371.9 L125.3 359.3 L125.5 372.7 L125.7 358.5 L125.8 372.8 L126 357.8 L126.2 372.6 L126.3 357.9 L126.5 373.2 L126.7 358.3 L126.8 373 L127 357.8 L127.2 373.1 L127.3 356.7 L127.5 372.3 L127.7 357.3 L127.8 371.7 L128 356.7 L128.2 371.2 L128.3 355.9 L128.5 371.8 L128.7 355.6 L128.8 370.6 L129 355.1 L129.2 370.5 L129.3 354.6 L129.5 371 L129.7 356.3 L129.8 370.3 L130 355.5 L130.2 370.9 L130.3 355.7 L130.5 370.2 L130.7 354.8 L130.8 369.9 L131 356.5 L131.2 371.2 L131.3 355.5 L131.5 370.8 L131.7 355 L131.8 372.6 L132 354.8 L132.2 372.1 L132.3 355.6 L132.5 371.8 L132.7 353.4 L132.8 373 L133 352.9 L133.2 372.9 L133.3 353.3 L133.5 373.5 L133.7 353.6 L133.8 373.1 L134 354.6 L134.2 373.3 L134.3 355.1 L134.5 372.3 L134.7 356.3 L134.8 373.4 L135 356.5 L135.2 372.2 L135.3 356.5 L135.5 371.9 L135.7 357.6 L135.8 371.2 L136 358 L136.2 371.2 L136.3 357 L136.5 370.9 L136.7 357.6 L136.8 370.2 L137 359.3 L137.2 370.3 L137.3 359 L137.5 370 L137.7 359.5 L137.8 369.8 L138 359.3 L138.2 369.8 L138.3 360.2 L138.5 369.2 L138.7 359.9 L138.8 368.8 L139 360.9 L139.2 368.7 L139.3 361.2 L139.5 368.8 L139.7 360.8 L139.8 368.3 L140 361.6 L140.2 368 L140.3 361.7 L140.5 367.8 L140.7 361.8 L140.8 368 L141 362.1 L141.2 367.6 L141.3 362 L141.5 367.4 L141.7 362.5 L141.8 367.4 L142 362.6 L142.2 367.2 L142.3 362.7 L142.5 367.2 L142.7 362.6 L142.8 367.2 L143 362.7 L143.2 367.2 L143.3 362.9 L143.5 367 L143.7 363.2 L143.8 367 L144 363.2 L144.2 367 L144.3 363.3 L144.5 366.8 L144.7 363.6 L144.8 366.8 L145 363.7 L145.2 366.5 L145.3 363.9 L145.5 366.4 L145.7 363.9 L145.8 366.5 L146 364 L146.2 366.3 L146.3 363.9 L146.5 366.4 L146.7 364.2 L146.8 366.2 L147 364.2 L147.2 366.2 L147.3 364.1 L147.5 366.3 L147.7 364.2 L147.8 366.1 L148 364.4 L148.2 366.1 L148.3 364.4 L148.5 366 L148.7 364.4 L148.8 366.1 L149 364.5 L149.2 365.9 L149.4 364.5 L149.5 365.9 L149.7 364.6 L149.9 365.9 L150 364.6 L150.2 365.9 L150.4 364.7 L150.5 365.8 L150.7 364.7 L150.9 365.8 L151 364.8 L151.2 365.8 L151.4 364.7 L151.5 365.8 L151.7 364.8 L151.9 365.8 L152 364.8 L152.2 365.7 L152.4 364.8 L152.5 365.7 L152.7 364.9 L152.9 365.7 L153 365 L153.2 365.7 L153.4 365 L153.5 365.7 L153.7 365 L153.9 365.6 L169.7 365.4" fill="none" stroke="#e8101a" stroke-width="1.0" stroke-linejoin="round"/>
<line x1="44.6" y1="365.4" x2="86.3" y2="365.4" stroke="#e8101a" stroke-width="1.8"/>
<line x1="150.9" y1="365.4" x2="169.7" y2="365.4" stroke="#e8101a" stroke-width="1.8"/>
<line x1="391.8" y1="304" x2="517.4" y2="304" stroke="#5a5a5a" stroke-width="1.6" stroke-linecap="square"/>
<line x1="391.8" y1="304" x2="391.8" y2="179.2" stroke="#5a5a5a" stroke-width="1.6" stroke-linecap="square"/>
<line x1="391.8" y1="304" x2="391.8" y2="302" stroke="#5a5a5a" stroke-width="1.2"/>
<text x="0" y="0" font-size="9.3" text-anchor="middle" fill="#262626" transform="translate(391.8 315) scale(1 1.11)">0</text>
<line x1="433.7" y1="304" x2="433.7" y2="302" stroke="#5a5a5a" stroke-width="1.2"/>
<text x="0" y="0" font-size="9.3" text-anchor="middle" fill="#262626" transform="translate(433.7 315) scale(1 1.11)">0.1</text>
<line x1="475.5" y1="304" x2="475.5" y2="302" stroke="#5a5a5a" stroke-width="1.2"/>
<text x="0" y="0" font-size="9.3" text-anchor="middle" fill="#262626" transform="translate(475.5 315) scale(1 1.11)">0.2</text>
<line x1="517.4" y1="304" x2="517.4" y2="302" stroke="#5a5a5a" stroke-width="1.2"/>
<text x="0" y="0" font-size="9.3" text-anchor="middle" fill="#262626" transform="translate(517.4 315) scale(1 1.11)">0.3</text>
<line x1="391.8" y1="304" x2="393.8" y2="304" stroke="#5a5a5a" stroke-width="1.2"/>
<text x="0" y="0" font-size="9.3" text-anchor="end" fill="#262626" transform="translate(389 307.5) scale(1 1.11)">0</text>
<line x1="391.8" y1="283.2" x2="393.8" y2="283.2" stroke="#5a5a5a" stroke-width="1.2"/>
<text x="0" y="0" font-size="9.3" text-anchor="end" fill="#262626" transform="translate(389 286.7) scale(1 1.11)">500</text>
<line x1="391.8" y1="262.4" x2="393.8" y2="262.4" stroke="#5a5a5a" stroke-width="1.2"/>
<text x="0" y="0" font-size="9.3" text-anchor="end" fill="#262626" transform="translate(389 265.9) scale(1 1.11)">1000</text>
<line x1="391.8" y1="241.6" x2="393.8" y2="241.6" stroke="#5a5a5a" stroke-width="1.2"/>
<text x="0" y="0" font-size="9.3" text-anchor="end" fill="#262626" transform="translate(389 245.1) scale(1 1.11)">1500</text>
<line x1="391.8" y1="220.8" x2="393.8" y2="220.8" stroke="#5a5a5a" stroke-width="1.2"/>
<text x="0" y="0" font-size="9.3" text-anchor="end" fill="#262626" transform="translate(389 224.3) scale(1 1.11)">2000</text>
<line x1="391.8" y1="200" x2="393.8" y2="200" stroke="#5a5a5a" stroke-width="1.2"/>
<text x="0" y="0" font-size="9.3" text-anchor="end" fill="#262626" transform="translate(389 203.5) scale(1 1.11)">2500</text>
<line x1="391.8" y1="179.2" x2="393.8" y2="179.2" stroke="#5a5a5a" stroke-width="1.2"/>
<text x="0" y="0" font-size="9.3" text-anchor="end" fill="#262626" transform="translate(389 182.7) scale(1 1.11)">3000</text>
<text x="454.6" y="327" font-size="10.5" text-anchor="middle" fill="#262626">Time (s)</text>
<text x="0" y="0" font-size="10.5" text-anchor="middle" fill="#262626" transform="translate(363.5 241.5) rotate(-90)"><tspan font-style="italic">Y</tspan> Displacement (µm)</text>
<text x="354.5" y="182.8" font-size="14.5" font-weight="bold" fill="#000">g</text>
<path d="M391.8 179.2 L433.7 179.2 L487.5 304 L517.4 304" fill="none" stroke="#000" stroke-width="2.2" stroke-linejoin="round"/>
<path d="M391.8 304 L433.7 304 L441 292.7 L447.5 276.9 L460.9 250.7 L471.3 232.4 L481.6 210 L489.3 191.7 L494.7 179.2 L517.4 179.2" fill="none" stroke="#0a0ae8" stroke-width="2.2" stroke-linejoin="round"/>
<line x1="432.1" y1="197.2" x2="440.8" y2="219.9" stroke="#111" stroke-width="1.2"/>
<path d="M442.8 225 L438 219.9 L441 220.5 L442.9 218 Z" fill="#111"/>
<line x1="447.7" y1="292.7" x2="457.9" y2="271.4" stroke="#0a0ae8" stroke-width="1.2"/>
<path d="M460.3 266.4 L459.8 273.4 L458.2 270.8 L455.1 271.1 Z" fill="#0a0ae8"/>
<text x="0" y="0" font-size="9" text-anchor="middle" fill="#111" transform="translate(449.5 208.6) rotate(66)">Backward</text>
<text x="0" y="0" font-size="9" text-anchor="middle" fill="#0a0ae8" transform="translate(444 275) rotate(-62)">Forward</text>
<ellipse cx="494.8" cy="182.3" rx="8.2" ry="9" fill="none" stroke="#333" stroke-width="1.3" stroke-dasharray="4.2 2.6"/>
<ellipse cx="488.4" cy="300.8" rx="8.2" ry="9" fill="none" stroke="#333" stroke-width="1.3" stroke-dasharray="4.2 2.6"/>
<path d="M501.5 193.5 C 508 203, 520 206, 535 208" fill="none" stroke="#2a2a2a" stroke-width="1.7" stroke-dasharray="5.2 3.6"/>
<path d="M540.8 208.6 L532.3 211.9 L535.9 208.2 L533 203.9 Z" fill="#2a2a2a"/>
<path d="M496 311.3 C 505 320, 518 325, 534 327.6" fill="none" stroke="#2a2a2a" stroke-width="1.7" stroke-dasharray="5.2 3.6"/>
<path d="M539.8 328.2 L531.2 331.3 L534.9 327.7 L532.1 323.4 Z" fill="#2a2a2a"/>
<rect x="547.6" y="178.2" width="19.5" height="104.5" fill="#dedeff" stroke="none" stroke-width="1"/>
<rect x="567.1" y="178.2" width="16" height="104.5" fill="#f2f2f2" stroke="none" stroke-width="1"/>
<rect x="583.1" y="178.2" width="89.5" height="104.5" fill="#fff2cc" stroke="none" stroke-width="1"/>
<line x1="547.6" y1="282.7" x2="672.6" y2="282.7" stroke="#c8c8c8" stroke-width="0.8"/>
<line x1="547.6" y1="235.2" x2="672.6" y2="235.2" stroke="#c8c8c8" stroke-width="0.8"/>
<line x1="547.6" y1="187.7" x2="672.6" y2="187.7" stroke="#c8c8c8" stroke-width="0.8"/>
<line x1="547.6" y1="282.7" x2="672.6" y2="282.7" stroke="#5a5a5a" stroke-width="1.6" stroke-linecap="square"/>
<line x1="547.6" y1="282.7" x2="547.6" y2="178.2" stroke="#5a5a5a" stroke-width="1.6" stroke-linecap="square"/>
<line x1="547.6" y1="282.7" x2="547.6" y2="280.7" stroke="#5a5a5a" stroke-width="1.2"/>
<text x="0" y="0" font-size="9.3" text-anchor="middle" fill="#262626" transform="translate(547.6 293.7) scale(1 1.11)">0.24</text>
<line x1="597.6" y1="282.7" x2="597.6" y2="280.7" stroke="#5a5a5a" stroke-width="1.2"/>
<text x="0" y="0" font-size="9.3" text-anchor="middle" fill="#262626" transform="translate(597.6 293.7) scale(1 1.11)">0.26</text>
<line x1="647.6" y1="282.7" x2="647.6" y2="280.7" stroke="#5a5a5a" stroke-width="1.2"/>
<text x="0" y="0" font-size="9.3" text-anchor="middle" fill="#262626" transform="translate(647.6 293.7) scale(1 1.11)">0.28</text>
<line x1="547.6" y1="282.7" x2="549.6" y2="282.7" stroke="#5a5a5a" stroke-width="1.2"/>
<text x="0" y="0" font-size="9.3" text-anchor="end" fill="#262626" transform="translate(544.8 286.2) scale(1 1.11)">2900</text>
<line x1="547.6" y1="235.2" x2="549.6" y2="235.2" stroke="#5a5a5a" stroke-width="1.2"/>
<text x="0" y="0" font-size="9.3" text-anchor="end" fill="#262626" transform="translate(544.8 238.7) scale(1 1.11)">2950</text>
<line x1="547.6" y1="187.7" x2="549.6" y2="187.7" stroke="#5a5a5a" stroke-width="1.2"/>
<text x="0" y="0" font-size="9.3" text-anchor="end" fill="#262626" transform="translate(544.8 191.2) scale(1 1.11)">3000</text>
<line x1="554.6" y1="283.4" x2="566" y2="195" stroke="#0a0ae8" stroke-width="2.3" stroke-linecap="round"/>
<path d="M566 195 C566.2 194.3 566.2 189.9 567 190.6 C567.8 191.3 569.7 199 570.7 199.3 C571.7 199.6 572.1 193.2 573 192.4 C573.9 191.6 574.6 195.5 575.8 194.7 C576.9 193.9 578.7 188 579.9 187.8 C581.1 187.7 582 194.1 583.1 193.8 C584.2 193.5 585.6 186.5 586.8 186 C588 185.5 589.3 190.8 590.5 191 C591.7 191.2 593 187.1 594.2 186.9 C595.4 186.7 596.6 189.7 597.8 189.7 C599 189.7 600.3 187 601.5 186.9 C602.7 186.8 604 189.2 605.2 189.2 C606.4 189.2 607.7 186.9 608.9 186.9 C610.1 186.9 611.1 189.2 612.3 189.2 C613.5 189.2 614.9 186.9 616 186.9 C617.1 186.9 618.1 189.2 619.2 189.2 C620.4 189.2 621.8 186.9 622.9 186.9 C624 186.9 625 189.1 626.1 189.2 C627.2 189.2 628.6 187.2 629.8 187.2 C630.9 187.1 631.9 188.8 633 188.9 C634.1 189 635.4 187.7 636.6 187.6 C637.8 187.5 639 188.6 640.2 188.6 C641.4 188.6 642.7 187.8 644 187.8 C645.3 187.8 646.7 188.4 648 188.4 C649.3 188.4 650.7 188 652 188 C653.3 188 654.7 188.3 656 188.3 C657.3 188.3 658.5 188.1 660 188.1 C661.5 188.1 663.1 188.2 665 188.2 C666.9 188.2 670.4 188.1 671.5 188.1" fill="none" stroke="#0a0ae8" stroke-width="2.3" stroke-linejoin="round" stroke-linecap="round"/>
<rect x="547" y="316.3" width="21.9" height="104.3" fill="#dedeff" stroke="none" stroke-width="1"/>
<rect x="568.9" y="316.3" width="10.8" height="104.3" fill="#f2f2f2" stroke="none" stroke-width="1"/>
<rect x="579.7" y="316.3" width="92.9" height="104.3" fill="#fff2cc" stroke="none" stroke-width="1"/>
<line x1="547" y1="411.1" x2="672.6" y2="411.1" stroke="#c8c8c8" stroke-width="0.8"/>
<line x1="547" y1="363.7" x2="672.6" y2="363.7" stroke="#c8c8c8" stroke-width="0.8"/>
<line x1="547" y1="316.3" x2="672.6" y2="316.3" stroke="#c8c8c8" stroke-width="0.8"/>
<line x1="547" y1="420.6" x2="672.6" y2="420.6" stroke="#5a5a5a" stroke-width="1.6" stroke-linecap="square"/>
<line x1="547" y1="420.6" x2="547" y2="316.3" stroke="#5a5a5a" stroke-width="1.6" stroke-linecap="square"/>
<line x1="547" y1="420.6" x2="547" y2="418.6" stroke="#5a5a5a" stroke-width="1.2"/>
<text x="0" y="0" font-size="9.3" text-anchor="middle" fill="#262626" transform="translate(547 431.6) scale(1 1.11)">0.22</text>
<line x1="597.2" y1="420.6" x2="597.2" y2="418.6" stroke="#5a5a5a" stroke-width="1.2"/>
<text x="0" y="0" font-size="9.3" text-anchor="middle" fill="#262626" transform="translate(597.2 431.6) scale(1 1.11)">0.24</text>
<line x1="647.5" y1="420.6" x2="647.5" y2="418.6" stroke="#5a5a5a" stroke-width="1.2"/>
<text x="0" y="0" font-size="9.3" text-anchor="middle" fill="#262626" transform="translate(647.5 431.6) scale(1 1.11)">0.26</text>
<line x1="547" y1="411.1" x2="549" y2="411.1" stroke="#5a5a5a" stroke-width="1.2"/>
<text x="0" y="0" font-size="9.3" text-anchor="end" fill="#262626" transform="translate(544.2 414.6) scale(1 1.11)">0</text>
<line x1="547" y1="363.7" x2="549" y2="363.7" stroke="#5a5a5a" stroke-width="1.2"/>
<text x="0" y="0" font-size="9.3" text-anchor="end" fill="#262626" transform="translate(544.2 367.2) scale(1 1.11)">50</text>
<line x1="547" y1="316.3" x2="549" y2="316.3" stroke="#5a5a5a" stroke-width="1.2"/>
<text x="0" y="0" font-size="9.3" text-anchor="end" fill="#262626" transform="translate(544.2 319.8) scale(1 1.11)">100</text>
<line x1="553.1" y1="316.3" x2="567.6" y2="406" stroke="#000" stroke-width="2.3" stroke-linecap="round"/>
<path d="M567.6 406 C567.7 406.3 567.6 408.3 568.3 407.9 C568.9 407.5 570.4 403 571.5 403.7 C572.6 404.4 573.9 411.3 575.2 412 C576.5 412.7 578 407.9 579.3 407.9 C580.6 407.9 581.9 411.7 583 412 C584.1 412.3 584.7 409.7 585.8 409.7 C586.9 409.7 588.2 411.9 589.4 412 C590.5 412.1 591.5 410.2 592.7 410.2 C593.9 410.2 595.5 411.9 596.8 412 C598.1 412.1 599.3 410.7 600.5 410.6 C601.7 410.6 603 411.7 604.2 411.7 C605.4 411.7 606.5 410.6 607.8 410.6 C609.1 410.6 610.8 411.7 612 411.7 C613.2 411.7 614.1 410.8 615.2 410.8 C616.4 410.8 617.6 411.6 618.9 411.6 C620.2 411.6 621.6 410.9 623 410.9 C624.4 410.9 625.7 411.5 627 411.5 C628.3 411.5 629.7 411 631 411 C632.3 411 633.7 411.5 635 411.5 C636.3 411.5 637.7 411.1 639 411.1 C640.3 411.1 641.7 411.4 643 411.4 C644.3 411.4 645.5 411.1 647 411.1 C648.5 411.1 650.3 411.4 652 411.4 C653.7 411.4 655.3 411.2 657 411.2 C658.7 411.2 660.3 411.3 662 411.3 C663.7 411.3 665.3 411.2 667 411.2 C668.7 411.2 671.4 411.3 672.3 411.3" fill="none" stroke="#000" stroke-width="2.3" stroke-linejoin="round" stroke-linecap="round"/>
<line x1="391.3" y1="420.8" x2="516.7" y2="420.8" stroke="#5a5a5a" stroke-width="1.6" stroke-linecap="square"/>
<line x1="391.3" y1="420.8" x2="391.3" y2="336.8" stroke="#5a5a5a" stroke-width="1.6" stroke-linecap="square"/>
<line x1="391.3" y1="420.8" x2="391.3" y2="418.8" stroke="#5a5a5a" stroke-width="1.2"/>
<text x="0" y="0" font-size="9.3" text-anchor="middle" fill="#262626" transform="translate(391.3 431.8) scale(1 1.11)">0</text>
<line x1="433.1" y1="420.8" x2="433.1" y2="418.8" stroke="#5a5a5a" stroke-width="1.2"/>
<text x="0" y="0" font-size="9.3" text-anchor="middle" fill="#262626" transform="translate(433.1 431.8) scale(1 1.11)">0.1</text>
<line x1="474.9" y1="420.8" x2="474.9" y2="418.8" stroke="#5a5a5a" stroke-width="1.2"/>
<text x="0" y="0" font-size="9.3" text-anchor="middle" fill="#262626" transform="translate(474.9 431.8) scale(1 1.11)">0.2</text>
<line x1="516.7" y1="420.8" x2="516.7" y2="418.8" stroke="#5a5a5a" stroke-width="1.2"/>
<text x="0" y="0" font-size="9.3" text-anchor="middle" fill="#262626" transform="translate(516.7 431.8) scale(1 1.11)">0.3</text>
<line x1="391.3" y1="411.1" x2="393.3" y2="411.1" stroke="#5a5a5a" stroke-width="1.2"/>
<text x="0" y="0" font-size="9.3" text-anchor="end" fill="#262626" transform="translate(388.5 414.6) scale(1 1.11)">-5</text>
<line x1="391.3" y1="378.8" x2="393.3" y2="378.8" stroke="#5a5a5a" stroke-width="1.2"/>
<text x="0" y="0" font-size="9.3" text-anchor="end" fill="#262626" transform="translate(388.5 382.3) scale(1 1.11)">0</text>
<line x1="391.3" y1="346.5" x2="393.3" y2="346.5" stroke="#5a5a5a" stroke-width="1.2"/>
<text x="0" y="0" font-size="9.3" text-anchor="end" fill="#262626" transform="translate(388.5 350) scale(1 1.11)">5</text>
<text x="454" y="444.4" font-size="10.5" text-anchor="middle" fill="#262626">Time (s)</text>
<text x="0" y="0" font-size="10.5" text-anchor="middle" fill="#262626" transform="translate(377.4 379) rotate(-90)">From <tspan font-style="italic">Y</tspan> to <tspan font-style="italic">X</tspan> (µm)</text>
<text x="353.6" y="345.2" font-size="14.5" font-weight="bold" fill="#000">h</text>
<path d="M391.3 378.8 L433.1 378.8 L433.3 367.5 L433.5 381.3 L433.6 364.4 L433.8 381 L434 364.3 L434.1 376 L434.3 365.6 L434.5 377.3 L434.6 366.2 L434.8 378.6 L435 364.1 L435.1 382.6 L435.3 366.2 L435.5 381.4 L435.6 369.7 L435.8 378.6 L436 369.5 L436.2 377.2 L436.3 359.4 L436.5 374.3 L436.7 361.1 L436.8 377 L437 362.1 L437.2 374.6 L437.3 364.1 L437.5 378.4 L437.7 365 L437.8 376.9 L438 364.2 L438.2 382.2 L438.3 367.6 L438.5 377 L438.7 364.1 L438.8 380.7 L439 369.9 L439.2 381.5 L439.3 365.4 L439.5 380.3 L439.7 369.8 L439.8 380.5 L440 364.2 L440.2 381.9 L440.3 369.6 L440.5 380.2 L440.7 358.6 L440.8 377.5 L441 356.2 L441.2 372.7 L441.3 358.2 L441.5 375.6 L441.7 358.7 L441.8 373.1 L442 361.6 L442.2 376.3 L442.3 362.8 L442.5 373.1 L442.7 358.5 L442.8 374.4 L443 358.9 L443.2 375.4 L443.3 361.6 L443.5 377.8 L443.7 363.1 L443.8 377.7 L444 364.7 L444.2 373.8 L444.3 364.7 L444.5 381.4 L444.7 367.7 L444.8 374.8 L445 368.8 L445.2 375.8 L445.3 366.5 L445.5 380.4 L445.7 369.3 L445.8 381.8 L446 370 L446.2 380.2 L446.4 366.8 L446.5 382.2 L446.7 366.4 L446.9 380.4 L447 364.5 L447.2 380.1 L447.4 370.3 L447.5 380.3 L447.7 367.5 L447.9 379.6 L448 369.3 L448.2 380.6 L448.4 366.7 L448.5 379.9 L448.7 368.1 L448.9 382.3 L449 364.1 L449.2 381.6 L449.4 349.7 L449.5 378.4 L449.7 339.9 L449.9 365.4 L450 343.6 L450.2 369.5 L450.4 347.6 L450.5 372.4 L450.7 349 L450.9 371.3 L451 352.6 L451.2 372.2 L451.4 355.2 L451.5 372 L451.7 357.5 L451.9 375.9 L452 360.8 L452.2 374.5 L452.4 362.4 L452.5 376.5 L452.7 365 L452.9 374.6 L453 367.6 L453.2 376.3 L453.4 367.3 L453.5 380.2 L453.7 365.9 L453.9 381.1 L454 351.7 L454.2 378.7 L454.4 344.2 L454.5 376.6 L454.7 346.5 L454.9 368.3 L455 349.8 L455.2 374.2 L455.4 351.1 L455.5 375 L455.7 355.1 L455.9 374.4 L456 356.6 L456.2 371.3 L456.4 359.4 L456.5 376.9 L456.7 361.5 L456.9 375.7 L457.1 363.4 L457.2 376.4 L457.4 365.7 L457.6 378.6 L457.7 365.8 L457.9 381.3 L458.1 368.4 L458.2 382 L458.4 370.3 L458.6 379.9 L458.7 367.5 L458.9 379.5 L459.1 365 L459.2 380.2 L459.4 369.5 L459.6 379.6 L459.7 366.3 L459.9 380.9 L460.1 366.3 L460.2 381.6 L460.4 365.2 L460.6 382.5 L460.7 366 L460.9 380.1 L461.1 367.3 L461.2 380 L461.4 370.3 L461.6 381 L461.7 365.8 L461.9 380 L462.1 358.5 L462.2 375 L462.4 343.9 L462.6 368.7 L462.7 345.4 L462.9 370.3 L463.1 348.9 L463.2 369 L463.4 351 L463.6 371 L463.7 354 L463.9 377 L464.1 356.6 L464.2 373.1 L464.4 358.5 L464.6 371.8 L464.7 361.7 L464.9 373.1 L465.1 364.1 L465.2 376.4 L465.4 365.7 L465.6 378.7 L465.7 365.2 L465.9 379.7 L466.1 365.2 L466.2 380 L466.4 368.2 L466.6 382 L466.7 369.5 L466.9 379.9 L467.1 367.1 L467.3 381.8 L467.4 365 L467.6 381.7 L467.8 364.3 L467.9 381 L468.1 364.3 L468.3 379.7 L468.4 369 L468.6 381.1 L468.8 362.5 L468.9 375.7 L469.1 344.8 L469.3 374 L469.4 345.3 L469.6 368.2 L469.8 347.2 L469.9 376.5 L470.1 349.9 L470.3 378.5 L470.4 353 L470.6 371.2 L470.8 355.1 L470.9 378.2 L471.1 357.2 L471.3 371.8 L471.4 360.8 L471.6 375.9 L471.8 362.6 L471.9 376.9 L472.1 364.3 L472.3 378.1 L472.4 365.4 L472.6 379.5 L472.8 368.7 L472.9 377.6 L473.1 368.1 L473.3 381.4 L473.4 362.6 L473.6 375.7 L473.8 343.1 L473.9 373.2 L474.1 343.3 L474.3 376.7 L474.4 346 L474.6 372.6 L474.8 348.4 L474.9 376.3 L475.1 351.1 L475.3 375.7 L475.4 355.1 L475.6 370 L475.8 357.6 L475.9 373.1 L476.1 359.2 L476.3 375.9 L476.4 362.1 L476.6 374.6 L476.8 364.1 L476.9 374 L477.1 364.1 L477.3 379.8 L477.4 367.1 L477.6 381.9 L477.8 367.2 L478 381.7 L478.1 369.2 L478.3 379.7 L478.5 369.4 L478.6 377.1 L478.8 351.4 L479 376.7 L479.1 341.8 L479.3 377.6 L479.5 345.9 L479.6 369.6 L479.8 348.6 L480 374.1 L480.1 351 L480.3 370.4 L480.5 353.6 L480.6 375.2 L480.8 356.6 L481 378.7 L481.1 358.7 L481.3 372.6 L481.5 361.3 L481.6 375.6 L481.8 363.9 L482 373.8 L482.1 365.5 L482.3 376.9 L482.5 364.6 L482.6 382.3 L482.8 365.9 L483 381.9 L483.1 365.5 L483.3 380.8 L483.5 365.7 L483.6 379.7 L483.8 368.2 L484 381 L484.1 370.3 L484.3 380.6 L484.5 358.6 L484.6 371.7 L484.8 337.2 L485 370.3 L485.1 339.5 L485.3 370 L485.5 342.8 L485.6 378.5 L485.8 347.7 L486 374.2 L486.1 350.3 L486.3 377.8 L486.5 352.9 L486.6 374 L486.8 354.9 L487 373.5 L487.1 358.2 L487.3 373.2 L487.5 361.4 L487.6 375.7 L487.8 363.2 L488 378.5 L488.2 364.3 L488.3 380.8 L488.5 367 L488.7 381.4 L488.8 368 L489 380.4 L489.2 366.2 L489.3 381.3 L489.5 368.6 L489.7 381.8 L489.9 378.8" fill="none" stroke="#000" stroke-width="1.6" stroke-linejoin="round"/>
<path d="M391.3 378.8 L433.1 378.8 L433.1 373.2 L433.3 387.9 L433.4 373.5 L433.6 388.1 L433.8 374 L433.9 391.7 L434.1 376.5 L434.3 392.5 L434.4 374.4 L434.6 388.1 L434.8 373 L434.9 392.7 L435.1 378.4 L435.3 392.5 L435.4 376.3 L435.6 390.3 L435.8 373.1 L435.9 389.1 L436.1 375.8 L436.3 392.7 L436.4 374.6 L436.6 390.3 L436.8 373.1 L436.9 390 L437.1 374.5 L437.3 385.9 L437.4 374.4 L437.6 387.9 L437.8 376.1 L437.9 385.6 L438.1 374.8 L438.3 386 L438.5 375.1 L438.6 389.1 L438.8 375.1 L439 386.8 L439.1 374.6 L439.3 387.7 L439.5 373.8 L439.6 388.3 L439.8 373 L440 390.8 L440.1 374 L440.3 386.6 L440.5 376.4 L440.6 390.5 L440.8 373.8 L441 388.9 L441.1 375.5 L441.3 393.8 L441.5 374.2 L441.6 398.7 L441.8 374.6 L442 403.5 L442.1 373.9 L442.3 408.3 L442.5 375.9 L442.6 413.1 L442.8 373.3 L443 409.5 L443.1 376.7 L443.3 404.7 L443.5 375.8 L443.6 399.9 L443.8 374.4 L444 395 L444.1 374.8 L444.3 385.7 L444.5 376.5 L444.6 389.2 L444.8 374.7 L445 388.9 L445.1 375.4 L445.3 388 L445.5 376 L445.6 387.3 L445.8 374 L446 390.1 L446.1 376.6 L446.3 386 L446.5 373.7 L446.6 388.9 L446.8 373.9 L447 386.5 L447.1 375.2 L447.3 395.6 L447.5 373.7 L447.6 400.2 L447.8 374.3 L448 404.9 L448.1 375.6 L448.3 409.5 L448.5 374 L448.6 410.7 L448.8 375.2 L449 406 L449.2 376.5 L449.3 401.4 L449.5 376.6 L449.7 396.8 L449.8 374.7 L450 392.1 L450.2 374.2 L450.3 387 L450.5 373.9 L450.7 385.7 L450.8 376 L451 389.1 L451.2 376.5 L451.3 387 L451.5 374.1 L451.7 389.3 L451.8 375.8 L452 386.1 L452.2 375.5 L452.3 389.5 L452.5 375.4 L452.7 385.9 L452.8 374.1 L453 398.5 L453.2 373.3 L453.3 403.6 L453.5 373.3 L453.7 408.6 L453.8 373.7 L454 413.7 L454.2 375.6 L454.3 412.5 L454.5 373.2 L454.7 407.4 L454.8 375.9 L455 402.3 L455.2 375.4 L455.3 397.2 L455.5 375.3 L455.7 387.5 L455.8 376.1 L456 388.5 L456.2 373.8 L456.3 388.4 L456.5 373.6 L456.7 388.5 L456.8 376.2 L457 389.7 L457.2 373.4 L457.3 398.1 L457.5 376.8 L457.7 403.1 L457.8 374.8 L458 408.1 L458.2 373.1 L458.3 413.1 L458.5 373.7 L458.7 411.9 L458.8 374.7 L459 406.9 L459.2 376.5 L459.4 401.9 L459.5 374 L459.7 396.9 L459.9 376.5 L460 388.9 L460.2 376.3 L460.4 389.6 L460.5 374.3 L460.7 386.7 L460.9 376 L461 389.7 L461.2 374.8 L461.4 389.7 L461.5 375.3 L461.7 387.2 L461.9 373.1 L462 389.2 L462.2 374.9 L462.4 388.4 L462.5 374.1 L462.7 389.4 L462.9 373.3 L463 387.6 L463.2 373.7 L463.4 389.1 L463.5 373.6 L463.7 389.9 L463.9 373.6 L464 390.4 L464.2 373.1 L464.4 389 L464.5 374.8 L464.7 389.4 L464.9 373.8 L465 387.7 L465.2 375.2 L465.4 386.1 L465.5 374 L465.7 391 L465.9 375.4 L466 386.2 L466.2 376.1 L466.4 387.7 L466.5 375.7 L466.7 390.9 L466.9 376.6 L467 395 L467.2 376.4 L467.4 400 L467.5 373.9 L467.7 405 L467.9 376.6 L468 410 L468.2 374.6 L468.4 415 L468.5 376.7 L468.7 410 L468.9 376.1 L469 405 L469.2 375.9 L469.4 400 L469.5 374.6 L469.7 395 L469.9 376.1 L470.1 386.9 L470.2 376.2 L470.4 389.7 L470.6 375.7 L470.7 388.4 L470.9 373.7 L471.1 388 L471.2 375.9 L471.4 390.4 L471.6 373.3 L471.7 387.3 L471.9 374.7 L472.1 390.8 L472.2 375 L472.4 386.5 L472.6 376.7 L472.7 390.8 L472.9 373.8 L473.1 387.5 L473.2 374.8 L473.4 388.3 L473.6 375.8 L473.7 391 L473.9 374.3 L474.1 386.6 L474.2 376.8 L474.4 397.2 L474.6 375.4 L474.7 402.3 L474.9 374.1 L475.1 407.4 L475.2 376.3 L475.4 412.5 L475.6 375.6 L475.7 413.7 L475.9 373.5 L476.1 408.6 L476.2 374.4 L476.4 403.6 L476.6 375.8 L476.7 398.5 L476.9 376.3 L477.1 393.4 L477.2 376.9 L477.4 390 L477.6 373.6 L477.7 390 L477.9 376.5 L478.1 386.8 L478.2 374.1 L478.4 385.8 L478.6 375 L478.7 388 L478.9 373.2 L479.1 388.7 L479.2 373.5 L479.4 387 L479.6 373.8 L479.7 387.7 L479.9 373.3 L480.1 385.8 L480.3 373.7 L480.4 386.5 L480.6 374.8 L480.8 388.3 L480.9 376.3 L481.1 395.6 L481.3 375.7 L481.4 400.6 L481.6 376.6 L481.8 405.6 L481.9 375.1 L482.1 410.6 L482.3 375.5 L482.4 414.4 L482.6 376.5 L482.8 409.4 L482.9 375.1 L483.1 404.4 L483.3 373.6 L483.4 399.4 L483.6 376.8 L483.8 394.4 L483.9 374.1 L484.1 386.6 L484.3 374.7 L484.4 387.9 L484.6 376.8 L484.8 391 L484.9 373.8 L485.1 386.5 L485.3 374.5 L485.4 387 L485.6 375.4 L485.8 388.4 L485.9 375.7 L486.1 387.2 L486.3 375.3 L486.4 389.1 L486.6 375.9 L486.8 386.4 L486.9 374 L487.1 398.1 L487.3 373.2 L487.4 403.1 L487.6 374.1 L487.8 408.1 L487.9 373.7 L488.1 413.1 L488.3 376.3 L488.4 411.9 L488.6 374.2 L488.8 406.9 L488.9 376.2 L489.1 401.9 L489.3 373.6 L489.4 396.9 L489.6 376.5 L489.8 386.6 L489.9 376.3 L490.1 386 L490.3 375.3 L490.4 385.7 L490.6 373.3 L490.8 387.7 L491 374.9 L491.1 389 L491.3 373.9 L491.5 390 L491.6 375.4 L491.8 387.2 L492 375.3 L492.1 385.4 L492.3 375.3 L492.5 389.3 L492.6 373.1 L492.8 389.9 L493 374.3 L493.1 388.8 L493.3 376.8 L493.5 387.2 L493.6 375.5 L493.8 395.9 L494 376.4 L494.1 401.6 L494.3 374.9 L494.5 407.3 L494.6 373.7 L494.8 413 L495 376.2 L495.1 418.7 L495.3 373.4 L495.5 415.9 L495.6 375.5 L495.8 410.2 L496 376.3 L496.1 404.5 L496.3 373 L496.5 398.8 L496.6 374.1 L496.8 390.1 L497 376.1 L497.1 390.8 L497.3 374.4 L497.5 386.4 L497.6 376.5 L497.8 386.7 L498 374.6 L498.1 389.3 L498.3 375.6 L498.5 390.7 L498.6 375.5 L498.8 388 L499 376.4 L499.1 390.9 L499.3 376.3 L499.5 390.5 L499.6 374.8 L499.8 388.5 L500 374.7 L500.1 386.8 L500.3 373.3 L500.5 391 L500.6 373.7 L500.8 388.8 L501 378.1 L501.2 386.4 L501.3 377.5 L501.5 385.5 L501.7 377.9 L501.8 383.6 L502 376 L502.2 381.9 L502.3 377.2 L502.5 381.2 L502.7 378.7 L502.8 381 L503 376.8 L503.2 381.9 L503.3 377.6 L503.5 380.6 L503.7 377.8 L503.8 380.8 L504 378.3 L504.2 380.4 L504.3 377.9 L504.5 379.7 L504.7 378.6 L504.8 379.9 L505 378.7 L505.2 379.6 L505.3 378.4 L505.5 379.4 L505.7 378.5 L505.8 379.4 L506 378.5 L506.2 379.3 L516.7 378.8" fill="none" stroke="#0a0ae8" stroke-width="1.3" stroke-linejoin="round"/>
<line x1="391.3" y1="378.8" x2="433.1" y2="378.8" stroke="#0a0ae8" stroke-width="1.8"/>
<line x1="503.3" y1="378.8" x2="516.7" y2="378.8" stroke="#0a0ae8" stroke-width="1.8"/>
<rect x="55.7" y="456.6" width="62" height="17.6" fill="#dedeff" stroke="#000" stroke-width="1.25"/>
<rect x="266.5" y="456.7" width="62" height="17.6" fill="#f2f2f2" stroke="#000" stroke-width="1.25"/>
<rect x="484.8" y="456.6" width="61.2" height="17.1" fill="#fff2cc" stroke="#000" stroke-width="1.25"/>
<text x="179.4" y="463.6" font-size="10.3" text-anchor="middle" fill="#111">High-velocity stepping</text>
<text x="179.4" y="473.6" font-size="10.3" text-anchor="middle" fill="#111">in phase-1</text>
<text x="392.3" y="463.6" font-size="10.3" text-anchor="middle" fill="#111">Wrap-induced stepping</text>
<text x="392.3" y="473.6" font-size="10.3" text-anchor="middle" fill="#111">in phase-2</text>
<text x="610.5" y="463.6" font-size="10.3" text-anchor="middle" fill="#111">Transited to scanning</text>
<text x="610.5" y="473.6" font-size="10.3" text-anchor="middle" fill="#111">in phase-2</text>
<line x1="45.5" y1="613.5" x2="170.8" y2="613.5" stroke="#5a5a5a" stroke-width="1.6" stroke-linecap="square"/>
<line x1="45.5" y1="613.5" x2="45.5" y2="488.7" stroke="#5a5a5a" stroke-width="1.6" stroke-linecap="square"/>
<line x1="50.7" y1="613.5" x2="50.7" y2="611.5" stroke="#5a5a5a" stroke-width="1.2"/>
<text x="0" y="0" font-size="9.3" text-anchor="middle" fill="#262626" transform="translate(50.7 624.5) scale(1 1.11)">0</text>
<line x1="107.8" y1="613.5" x2="107.8" y2="611.5" stroke="#5a5a5a" stroke-width="1.2"/>
<text x="0" y="0" font-size="9.3" text-anchor="middle" fill="#262626" transform="translate(107.8 624.5) scale(1 1.11)">500</text>
<line x1="165" y1="613.5" x2="165" y2="611.5" stroke="#5a5a5a" stroke-width="1.2"/>
<text x="0" y="0" font-size="9.3" text-anchor="middle" fill="#262626" transform="translate(165 624.5) scale(1 1.11)">1000</text>
<line x1="45.5" y1="608" x2="47.5" y2="608" stroke="#5a5a5a" stroke-width="1.2"/>
<text x="0" y="0" font-size="9.3" text-anchor="end" fill="#262626" transform="translate(42.7 611.5) scale(1 1.11)">-500</text>
<line x1="45.5" y1="550.9" x2="47.5" y2="550.9" stroke="#5a5a5a" stroke-width="1.2"/>
<text x="0" y="0" font-size="9.3" text-anchor="end" fill="#262626" transform="translate(42.7 554.4) scale(1 1.11)">0</text>
<line x1="45.5" y1="493.7" x2="47.5" y2="493.7" stroke="#5a5a5a" stroke-width="1.2"/>
<text x="0" y="0" font-size="9.3" text-anchor="end" fill="#262626" transform="translate(42.7 497.2) scale(1 1.11)">500</text>
<text x="107.7" y="636.6" font-size="10.5" text-anchor="middle" fill="#262626"><tspan font-style="italic">X</tspan> Displacement (µm)</text>
<text x="0" y="0" font-size="10.5" text-anchor="middle" fill="#262626" transform="translate(20 551) rotate(-90)"><tspan font-style="italic">Y</tspan> Displacement (µm)</text>
<text x="4.2" y="494.5" font-size="14.5" font-weight="bold" fill="#000">i</text>
<circle cx="107.8" cy="550.9" r="57.1" fill="none" stroke="#d4d4d4" stroke-width="3.2"/>
<circle cx="107.8" cy="550.9" r="57.1" fill="none" stroke="#111" stroke-width="2.8"/>
<circle cx="107.8" cy="550.9" r="57.1" fill="none" stroke="#22e622" stroke-width="1.8" stroke-dasharray="5 1.2 1.6 1.2"/>
<line x1="244.8" y1="613" x2="370.7" y2="613" stroke="#5a5a5a" stroke-width="1.6" stroke-linecap="square"/>
<line x1="244.8" y1="613" x2="244.8" y2="488" stroke="#5a5a5a" stroke-width="1.6" stroke-linecap="square"/>
<line x1="250.3" y1="613" x2="250.3" y2="611" stroke="#5a5a5a" stroke-width="1.2"/>
<text x="0" y="0" font-size="9.3" text-anchor="middle" fill="#262626" transform="translate(250.3 624) scale(1 1.11)">0</text>
<line x1="307.3" y1="613" x2="307.3" y2="611" stroke="#5a5a5a" stroke-width="1.2"/>
<text x="0" y="0" font-size="9.3" text-anchor="middle" fill="#262626" transform="translate(307.3 624) scale(1 1.11)">500</text>
<line x1="364.3" y1="613" x2="364.3" y2="611" stroke="#5a5a5a" stroke-width="1.2"/>
<text x="0" y="0" font-size="9.3" text-anchor="middle" fill="#262626" transform="translate(364.3 624) scale(1 1.11)">1000</text>
<line x1="244.8" y1="607.5" x2="246.8" y2="607.5" stroke="#5a5a5a" stroke-width="1.2"/>
<text x="0" y="0" font-size="9.3" text-anchor="end" fill="#262626" transform="translate(242 611) scale(1 1.11)">0</text>
<line x1="244.8" y1="584.7" x2="246.8" y2="584.7" stroke="#5a5a5a" stroke-width="1.2"/>
<text x="0" y="0" font-size="9.3" text-anchor="end" fill="#262626" transform="translate(242 588.2) scale(1 1.11)">200</text>
<line x1="244.8" y1="561.9" x2="246.8" y2="561.9" stroke="#5a5a5a" stroke-width="1.2"/>
<text x="0" y="0" font-size="9.3" text-anchor="end" fill="#262626" transform="translate(242 565.4) scale(1 1.11)">400</text>
<line x1="244.8" y1="539.1" x2="246.8" y2="539.1" stroke="#5a5a5a" stroke-width="1.2"/>
<text x="0" y="0" font-size="9.3" text-anchor="end" fill="#262626" transform="translate(242 542.6) scale(1 1.11)">600</text>
<line x1="244.8" y1="516.3" x2="246.8" y2="516.3" stroke="#5a5a5a" stroke-width="1.2"/>
<text x="0" y="0" font-size="9.3" text-anchor="end" fill="#262626" transform="translate(242 519.8) scale(1 1.11)">800</text>
<line x1="244.8" y1="493.5" x2="246.8" y2="493.5" stroke="#5a5a5a" stroke-width="1.2"/>
<text x="0" y="0" font-size="9.3" text-anchor="end" fill="#262626" transform="translate(242 497) scale(1 1.11)">1000</text>
<text x="307.5" y="636.3" font-size="10.5" text-anchor="middle" fill="#262626"><tspan font-style="italic">X</tspan> Displacement (µm)</text>
<text x="0" y="0" font-size="10.5" text-anchor="middle" fill="#262626" transform="translate(217 549.8) rotate(-90)"><tspan font-style="italic">Y</tspan> Displacement (µm)</text>
<text x="200.5" y="493.8" font-size="14.5" font-weight="bold" fill="#000">k</text>
<path d="M250.3 607.5 L364.3 607.5 L364.3 493.5 L250.3 493.5 L250.3 607.5" fill="none" stroke="#d4d4d4" stroke-width="3.2" stroke-linejoin="round"/>
<path d="M250.3 607.5 L364.3 607.5 L364.3 493.5 L250.3 493.5 L250.3 607.5" fill="none" stroke="#111" stroke-width="2.8" stroke-linejoin="round"/>
<path d="M250.3 607.5 L364.3 607.5 L364.3 493.5 L250.3 493.5 L250.3 607.5" fill="none" stroke="#22e622" stroke-width="1.8" stroke-linejoin="round" stroke-dasharray="5 1.2 1.6 1.2"/>
<line x1="443.6" y1="613.1" x2="569.5" y2="613.1" stroke="#5a5a5a" stroke-width="1.6" stroke-linecap="square"/>
<line x1="443.6" y1="613.1" x2="443.6" y2="488" stroke="#5a5a5a" stroke-width="1.6" stroke-linecap="square"/>
<line x1="449" y1="613.1" x2="449" y2="611.1" stroke="#5a5a5a" stroke-width="1.2"/>
<text x="0" y="0" font-size="9.3" text-anchor="middle" fill="#262626" transform="translate(449 624.1) scale(1 1.11)">0</text>
<line x1="506.4" y1="613.1" x2="506.4" y2="611.1" stroke="#5a5a5a" stroke-width="1.2"/>
<text x="0" y="0" font-size="9.3" text-anchor="middle" fill="#262626" transform="translate(506.4 624.1) scale(1 1.11)">500</text>
<line x1="563.7" y1="613.1" x2="563.7" y2="611.1" stroke="#5a5a5a" stroke-width="1.2"/>
<text x="0" y="0" font-size="9.3" text-anchor="middle" fill="#262626" transform="translate(563.7 624.1) scale(1 1.11)">1000</text>
<line x1="443.6" y1="607.5" x2="445.6" y2="607.5" stroke="#5a5a5a" stroke-width="1.2"/>
<text x="0" y="0" font-size="9.3" text-anchor="end" fill="#262626" transform="translate(440.8 611) scale(1 1.11)">0</text>
<line x1="443.6" y1="584.7" x2="445.6" y2="584.7" stroke="#5a5a5a" stroke-width="1.2"/>
<text x="0" y="0" font-size="9.3" text-anchor="end" fill="#262626" transform="translate(440.8 588.2) scale(1 1.11)">200</text>
<line x1="443.6" y1="561.9" x2="445.6" y2="561.9" stroke="#5a5a5a" stroke-width="1.2"/>
<text x="0" y="0" font-size="9.3" text-anchor="end" fill="#262626" transform="translate(440.8 565.4) scale(1 1.11)">400</text>
<line x1="443.6" y1="539.1" x2="445.6" y2="539.1" stroke="#5a5a5a" stroke-width="1.2"/>
<text x="0" y="0" font-size="9.3" text-anchor="end" fill="#262626" transform="translate(440.8 542.6) scale(1 1.11)">600</text>
<line x1="443.6" y1="516.3" x2="445.6" y2="516.3" stroke="#5a5a5a" stroke-width="1.2"/>
<text x="0" y="0" font-size="9.3" text-anchor="end" fill="#262626" transform="translate(440.8 519.8) scale(1 1.11)">800</text>
<line x1="443.6" y1="493.5" x2="445.6" y2="493.5" stroke="#5a5a5a" stroke-width="1.2"/>
<text x="0" y="0" font-size="9.3" text-anchor="end" fill="#262626" transform="translate(440.8 497) scale(1 1.11)">1000</text>
<text x="506.5" y="636.3" font-size="10.5" text-anchor="middle" fill="#262626"><tspan font-style="italic">X</tspan> Displacement (µm)</text>
<text x="0" y="0" font-size="10.5" text-anchor="middle" fill="#262626" transform="translate(417.5 549.8) rotate(-90)"><tspan font-style="italic">Y</tspan> Displacement (µm)</text>
<text x="398.6" y="494.5" font-size="14.5" font-weight="bold" fill="#000">m</text>
<path d="M449 607.5 L506.4 508.8 L563.7 607.5 L449 607.5" fill="none" stroke="#d4d4d4" stroke-width="3.4" stroke-linejoin="round"/>
<path d="M449 607.5 L506.4 508.8 L563.7 607.5 L449 607.5" fill="none" stroke="#111" stroke-width="2.8" stroke-linejoin="round"/>
<path d="M449 607.5 L506.4 508.8 L563.7 607.5 L449 607.5" fill="none" stroke="#22e622" stroke-width="1.8" stroke-linejoin="round" stroke-dasharray="5 1.2 1.6 1.2"/>
<line x1="592.2" y1="549.5" x2="626.4" y2="549.5" stroke="#cdcdcd" stroke-width="1.5"/>
<line x1="592.2" y1="590.7" x2="626.4" y2="590.7" stroke="#808080" stroke-width="1.6"/>
<line x1="592.2" y1="632" x2="626.4" y2="632" stroke="#4d4d4d" stroke-width="1.6"/>
<line x1="592.2" y1="673.3" x2="626.4" y2="673.3" stroke="#000" stroke-width="1.8"/>
<line x1="592.2" y1="714.7" x2="626.4" y2="714.7" stroke="#22e622" stroke-width="1.4" stroke-dasharray="4 1.8 1.4 1.8"/>
<text x="629.8" y="553.2" font-size="10.5" text-anchor="start" fill="#111">5 Hz</text>
<text x="629.8" y="594.4" font-size="10.5" text-anchor="start" fill="#111">1 Hz</text>
<text x="629.8" y="635.7" font-size="10.5" text-anchor="start" fill="#111">0.2 Hz</text>
<text x="629.8" y="677" font-size="10.5" text-anchor="start" fill="#111">0.05 Hz</text>
<text x="629.8" y="718.4" font-size="10.5" text-anchor="start" fill="#111">Reference</text>
<clipPath id="cj"><path d="M57.3 654.2 C61.4 653.1 73.7 651.9 82 652.3 C90.2 652.8 100.9 657.1 106.6 657.1 C112.3 657.1 112.3 653.4 116.1 652.3 C119.9 651.2 124.2 650.6 129.4 650.4 C134.6 650.3 144.3 650.4 147.4 651.4 C150.6 652.3 150.4 654.5 148.4 656.1 C146.3 657.7 133.5 659.1 135.1 660.9 C136.7 662.6 153.7 664.5 157.9 666.6 C162 668.6 158 670.5 159.7 673.2 C161.5 675.9 166.5 677.8 168.3 682.7 C170 687.6 170.3 697.7 170.2 702.6 C170 707.5 167.3 708.6 167.3 712.1 C167.3 715.6 170.5 720.6 170.2 723.5 C169.9 726.3 167.5 727.6 165.4 729.2 C163.4 730.8 159.4 730.1 157.9 733 C156.3 735.8 159.7 743.4 156 746.3 C152.2 749.1 141.1 748.8 135.1 750.1 C129.1 751.3 123.1 752 119.9 753.9 C116.7 755.7 118 759.5 116.1 761.4 C114.2 763.3 111 765.2 108.5 765.2 C106 765.2 105.4 763 100.9 761.4 C96.5 759.9 88.3 757 82 755.7 C75.6 754.5 67.4 755.4 63 753.9 C58.5 752.3 57.6 749.4 55.4 746.3 C53.2 743.1 50.8 738.7 49.7 734.9 C48.6 731.1 48.6 727.3 48.7 723.5 C48.9 719.7 50.6 716.5 50.6 712.1 C50.6 707.7 48.6 702 48.7 696.9 C48.9 691.9 51.3 686.8 51.6 681.7 C51.9 676.7 49.7 670.4 50.6 666.6 C51.6 662.8 56.2 661 57.3 659 C58.4 656.9 53.2 655.3 57.3 654.2 Z"/></clipPath>
<path d="M56.7 654.5 C58.7 654 65.7 653.5 69.8 653.2 C74 653 77.3 652.6 81.5 652.8 C85.7 653 90.6 654.1 94.8 654.7 C99 655.4 104 656.7 106.6 656.7 C109.3 656.6 109 655.3 110.6 654.5 C112.2 653.7 114.1 652.2 116.2 651.6 C118.4 651.1 121.1 651.3 123.2 651 C125.3 650.6 126.3 649.6 129 649.7 C131.6 649.8 136 651 139.2 651.3 C142.4 651.6 146.7 651.2 148 651.6 C149.3 651.9 147.1 652.8 147.1 653.5 C147.2 654.1 149.1 654.7 148.4 655.5 C147.6 656.3 144.8 657.3 142.4 658.3 C140.1 659.3 134 660.4 134.5 661.4 C135.1 662.4 142 663.5 145.9 664.4 C149.7 665.3 155.7 665.7 157.8 666.6 C159.9 667.6 158.3 668.9 158.5 669.9 C158.8 670.8 158.2 671.2 159.2 672.5 C160.3 673.7 163 675.9 164.6 677.5 C166.2 679.2 167.8 679.6 168.7 682.2 C169.6 684.9 169.7 689.8 170 693.3 C170.3 696.8 170.8 700.6 170.6 703 C170.4 705.4 169.5 706.2 168.9 707.7 C168.2 709.2 166.7 710.5 166.7 712.1 C166.8 713.7 168.6 715.3 169.3 717.3 C170 719.3 171.1 722.6 170.9 724.1 C170.6 725.6 168.6 725.3 167.7 726.1 C166.8 726.9 166.2 728.2 165.4 729 C164.5 729.8 163.8 730.3 162.4 730.9 C161.1 731.5 158 730.7 157.1 732.3 C156.2 733.9 157.4 738.1 157.3 740.4 C157.1 742.7 157.9 744.9 155.9 746.2 C154 747.6 149.2 747.9 145.6 748.6 C142 749.2 137.6 749.6 134.6 750.2 C131.6 750.8 130.1 751.6 127.6 752.2 C125 752.7 121 752.3 119.4 753.3 C117.8 754.4 118.3 757 117.8 758.3 C117.2 759.7 116.8 760.9 115.9 761.6 C114.9 762.3 113.3 762 112 762.7 C110.7 763.4 109 765.7 107.8 765.7 C106.7 765.8 106.3 763.8 105.2 763.1 C104.1 762.5 103.4 762.4 101.2 761.7 C99 761.1 95.3 760.2 92.1 759.3 C88.8 758.5 84.9 757.3 81.8 756.5 C78.7 755.8 76.2 755.4 73.2 754.9 C70.2 754.5 66 754.7 63.6 753.8 C61.2 753 60.2 751 59 749.7 C57.7 748.3 57.2 747.2 56 745.7 C54.8 744.3 52.8 742.9 51.8 741.1 C50.9 739.2 50.5 736.9 50.1 734.8 C49.8 732.8 50.1 730.4 49.8 728.5 C49.5 726.5 48.4 725 48.4 723.2 C48.3 721.3 49.3 719.2 49.6 717.3 C49.8 715.4 49.8 713.8 50 711.8 C50.1 709.9 50.5 707.8 50.3 705.3 C50.2 702.8 49.2 699.4 49.1 696.9 C49 694.4 49.4 692.5 49.8 690.1 C50.2 687.6 51.5 684.8 51.6 682.1 C51.7 679.4 50.4 676.2 50.4 673.7 C50.3 671.2 50.5 668.8 51.2 667 C51.9 665.2 53.6 664.3 54.6 662.9 C55.6 661.6 56.6 660.2 57.2 659.1 C57.7 658 57.9 657.1 57.8 656.3 C57.8 655.5 54.7 655 56.7 654.5 Z" fill="#cdcdcd" stroke="#cdcdcd" stroke-width="1.5"/>
<path d="M53.4 659.2 q4 0.4 7.9 -0.6 M65 663.6 q5.8 -0.8 11.6 0.4 M128.8 660.1 q4.7 -0.1 9.4 -0.1 M167.6 658.4 q2.1 1.1 4.2 -0.2 M75 667.2 q3.8 1.1 7.6 -0.5 M77.2 676.6 q4.7 1.1 9.5 0.5 M93.2 662.5 q6.2 1.2 12.4 -0.8 M137.3 687.1 q5.3 -0.7 10.5 0.5 M136.7 662.2 q5.2 -0.7 10.4 -0.7 M91 667.4 q4 0.4 8 0.5 M163.5 691.1 q7 0.7 13.9 -0.3 M72.5 678.1 q4.7 0.4 9.5 -0.7 M74.4 689.1 q5 0.5 10 -0.6 M98.3 688.7 q5.2 1.2 10.5 -0.5 M104.8 684.6 q4.2 0.7 8.4 0.1 M65.7 658.7 q6.9 -0.9 13.8 -0.5 M90.9 681.4 q6.3 -0.1 12.5 -0 M143.5 665.3 q3.9 0.3 7.7 0.2 M56.4 659.1 q2.7 0.5 5.4 0.3 M164.9 683.4 q3.3 0.6 6.5 0.8 M92.4 655.4 q3.9 -0.5 7.8 -0.5 M57.2 659.6 q6.3 -1.1 12.7 0.2 M76 662.2 q6.1 -0.5 12.2 -0.5 M104.8 680.7 q4.6 0.9 9.2 -0.2 M112.8 681.5 q4.3 0.5 8.6 -0.1 M67.5 659.6 q5.9 0.6 11.8 0.7 M132.1 676.5 q2.8 0.8 5.7 -0.6 M101.3 660.2 q3.9 -0.5 7.8 -0.1 M134.5 675 q3.2 0.7 6.4 0.4 M148 656.2 q5.1 0.9 10.1 -0.4" fill="none" stroke="#fff" stroke-width="1.5" stroke-linecap="round" clip-path="url(#cj)"/>
<path d="M61 705.8 q2.6 1 5.1 -0 M135.5 697.4 q3.3 0.8 6.6 0 M161.6 755.3 q2.8 -1.2 5.6 0.4 M66.7 690.7 q4.1 0.8 8.1 0.5 M162.6 704.9 q1.8 -0.9 3.6 0.8 M65 701.8 q1.6 -1.1 3.1 -0.7 M93 702.1 q2.6 1 5.2 -0.5 M146.5 744.6 q3.5 0.2 7 0.4 M120.1 707 q2.7 -0.6 5.3 -0.2 M166.5 721.6 q1.7 -0.1 3.5 0.5 M103.7 742 q1.8 -1.1 3.6 0.3 M57.6 712.3 q2.8 -0.7 5.7 -0.7 M52.8 760.4 q3.9 1.1 7.8 -0 M162.7 753.8 q3.7 0.1 7.3 0 M78.2 717.8 q4 -0.7 8.1 0.6 M111.1 734.7 q4.4 0.4 8.8 -0.6 M80.7 690.1 q1.6 1.1 3.2 0.1 M164.4 747.8 q2.6 1.1 5.2 0.7 M104.9 696.2 q2.6 -0.8 5.2 -0.2 M61.6 742.8 q4.9 -0.7 9.9 0.4 M119.8 725.7 q4.7 -0.3 9.4 0.5 M56 761.4 q2.1 -1.2 4.3 0.6 M135.7 739.9 q4.2 -0.3 8.4 -0.6 M88.9 760.6 q4.9 -0.6 9.9 -0.1 M104.3 756.9 q1.5 0.8 3 -0.4 M115.7 699.6 q1.8 0.9 3.6 0 M164.7 754 q4.1 -1 8.3 0.1 M167.1 727.2 q1.7 -0.8 3.5 0.8 M165.3 708.3 q2.6 0.5 5.2 0 M73.5 762.9 q3.7 -0.3 7.3 -0.8" fill="none" stroke="#fff" stroke-width="1.2" stroke-linecap="round" clip-path="url(#cj)"/>
<path d="M106.6 658 C107.9 657.2 110.4 654.5 114.2 653.3 C118 652 123.9 650.7 129.4 650.4 C134.9 650.2 144.3 650.8 147.4 651.8 C150.6 652.7 150.7 654.7 148.4 656.1 C146 657.6 138.6 659.9 133.2 660.5 C127.8 661.1 119 660 116.1 659.9" fill="none" stroke="#cdcdcd" stroke-width="2.0" stroke-linecap="round"/>
<path d="M135.1 660.9 C137.6 661.3 146.3 662.6 150.3 663.7 C154.2 664.8 157.5 665.9 158.8 667.5 C160.1 669.1 158 672.3 157.9 673.2" fill="none" stroke="#cdcdcd" stroke-width="2.0" stroke-linecap="round"/>
<path d="M57.3 655.2 C59.8 654.8 66.5 653.2 72.5 652.9 C78.5 652.7 87.6 652.8 93.3 653.7 C99 654.5 104.4 657.3 106.6 658" fill="none" stroke="#cdcdcd" stroke-width="2.0" stroke-linecap="round"/>
<path d="M72.5 659 C73.7 654.7 79.4 656.4 82 658 C84.5 659.6 85.7 665.1 87.6 668.5 C89.5 671.8 91.1 675.3 93.3 678 C95.5 680.6 101.6 682.7 100.9 684.6 C100.3 686.5 94 689.5 89.5 689.3 C85.1 689.2 77.2 688.7 74.4 683.6 C71.5 678.6 71.2 663.2 72.5 659 Z" fill="#cdcdcd" stroke="#cdcdcd" stroke-width="1.5"/>
<ellipse cx="78.2" cy="669" rx="9.4" ry="2.3" fill="#fff" clip-path="url(#cj)"/>
<ellipse cx="100.9" cy="666.1" rx="5.7" ry="2.4" fill="#fff" clip-path="url(#cj)"/>
<ellipse cx="125.5" cy="669" rx="9.5" ry="1.4" fill="#fff" clip-path="url(#cj)"/>
<ellipse cx="133.2" cy="685" rx="9.5" ry="2.3" fill="#fff" clip-path="url(#cj)"/>
<ellipse cx="155" cy="680.8" rx="4.7" ry="2.8" fill="#fff" clip-path="url(#cj)"/>
<ellipse cx="103.8" cy="685.5" rx="2.8" ry="1.9" fill="#fff" clip-path="url(#cj)"/>
<ellipse cx="66.8" cy="696.5" rx="5.8" ry="1.4" fill="#fff" clip-path="url(#cj)"/>
<ellipse cx="58.2" cy="705" rx="4.8" ry="1.4" fill="#fff" clip-path="url(#cj)"/>
<ellipse cx="159.7" cy="704.5" rx="5.7" ry="1.9" fill="#fff" clip-path="url(#cj)"/>
<ellipse cx="141.5" cy="713.5" rx="8.5" ry="1.5" fill="#fff" clip-path="url(#cj)"/>
<ellipse cx="103.8" cy="745.4" rx="2.8" ry="2.9" fill="#fff" clip-path="url(#cj)"/>
<ellipse cx="72.5" cy="740.6" rx="9.5" ry="1.9" fill="#fff" clip-path="url(#cj)"/>
<ellipse cx="99.8" cy="729.1" rx="6.8" ry="1.9" fill="#fff" clip-path="url(#cj)"/>
<ellipse cx="146" cy="661.5" rx="6" ry="1.5" fill="#fff" clip-path="url(#cj)"/>
<ellipse cx="70" cy="661" rx="6.7" ry="1.5" fill="#fff" clip-path="url(#cj)"/>
<ellipse cx="65.7" cy="668.8" rx="5.4" ry="1.8" fill="#fff" clip-path="url(#cj)"/>
<ellipse cx="75.3" cy="668.8" rx="3.4" ry="1.8" fill="#fff" clip-path="url(#cj)"/>
<ellipse cx="83" cy="670.8" rx="3.4" ry="1.8" fill="#fff" clip-path="url(#cj)"/>
<ellipse cx="88.3" cy="663.8" rx="2.9" ry="1" fill="#fff" clip-path="url(#cj)"/>
<ellipse cx="60.8" cy="680.1" rx="1.4" ry="1.9" fill="#fff" clip-path="url(#cj)"/>
<ellipse cx="61.3" cy="697" rx="4.8" ry="1.5" fill="#fff" clip-path="url(#cj)"/>
<path d="M87.5 704.6 C87.3 703.5 87 702.8 87 701.5 C87.1 700.2 87.2 697.8 87.7 696.6 C88.2 695.4 89.4 695.2 90.2 694.3 C90.9 693.5 91.6 692.4 92.4 691.7 C93.2 691.1 94.2 690.7 95 690.3 C95.7 689.9 96.2 689.5 97.1 689.4 C98 689.4 99.2 689.9 100.2 689.9 C101.2 689.9 102.3 689.6 103.2 689.5 C104.2 689.5 105.1 689.9 105.9 689.8 C106.6 689.8 107 689.2 107.8 689.2 C108.6 689.2 109.9 689.7 110.8 689.8 C111.8 690 112.6 690.4 113.4 690.3 C114.3 690.2 115.2 689.6 116 689.3 C116.8 689 117.5 688.6 118.2 688.6 C118.9 688.6 119.5 689.1 120.3 689.2 C121 689.3 121.9 689 122.8 689.3 C123.7 689.5 124.8 690.1 125.5 690.7 C126.1 691.2 126.2 691.7 126.6 692.3 C127.1 693 127.8 693.7 128.2 694.7 C128.5 695.6 128.4 696.7 128.5 698 C128.7 699.3 128.6 701.1 128.8 702.4 C128.9 703.8 129.4 704.8 129.5 706 C129.6 707.2 129.2 708.5 129.2 709.7 C129.1 710.8 129.5 711.8 129.4 712.8 C129.3 713.8 128.6 714.7 128.4 715.6 C128.1 716.5 128.2 717.5 127.8 718.1 C127.4 718.7 126.6 718.6 126 718.9 C125.4 719.3 124.3 719.4 124.2 720 C124 720.7 124.6 722.2 125.1 723 C125.5 723.8 126.6 724.5 126.9 724.9 C127.1 725.4 126.5 725.6 126.4 725.7 C126.3 725.8 126.9 726 126.5 725.5 C126 725 124.6 723.7 123.9 722.8 C123.2 722 123.2 721.1 122.4 720.7 C121.6 720.3 120.1 720.5 119 720.3 C118 720.2 116.9 719.9 115.8 719.9 C114.8 719.8 113.7 720 112.7 720.3 C111.7 720.6 111 721.7 110 721.8 C109.1 721.9 108.1 721.2 107.1 721 C106.2 720.7 105.3 720.7 104.2 720.6 C103.1 720.4 101.5 720.6 100.4 720.3 C99.3 720.1 98.3 719.4 97.4 719 C96.5 718.5 95.7 718 94.8 717.5 C93.9 717 92.7 716.6 92 716.1 C91.4 715.5 91.5 714.9 91 714.2 C90.5 713.6 89.4 713.2 89 712.2 C88.5 711.2 88.4 709.6 88.1 708.4 C87.9 707.1 87.6 705.8 87.5 704.6 Z" fill="#808080" stroke="#808080" stroke-width="1.5"/>
<path d="M97.9 700.4 C98.1 699.2 98.4 697.7 98.6 696.6 C98.8 695.5 98.8 694.7 99.1 693.9 C99.4 693.1 100.1 692.5 100.5 691.9 C101 691.3 101.2 690.8 101.7 690.4 C102.2 690.1 103.1 690.2 103.7 690 C104.4 689.7 104.8 689.1 105.5 689.1 C106.3 689 107.5 689.5 108.2 689.7 C109 689.9 109.4 690.1 110 690.2 C110.6 690.4 111 690.2 111.6 690.6 C112.2 690.9 113.3 691.4 113.8 692.1 C114.2 692.8 114.1 693.8 114.4 694.6 C114.7 695.4 115.2 696 115.5 696.9 C115.7 697.7 115.7 698.7 115.8 699.6 C115.9 700.6 115.8 702.2 116.1 702.7 C116.3 703.2 116.8 702.4 117.3 702.6 C117.8 702.8 118.5 703.4 119 703.7 C119.5 704.1 119.9 704.4 120.3 704.7 C120.8 705 121.6 705.2 121.6 705.7 C121.7 706.1 120.6 706.8 120.4 707.3 C120.2 707.8 120.8 708.4 120.3 708.7 C119.8 709 118.4 708.9 117.6 709.1 C116.8 709.3 116 709.2 115.5 709.8 C115.1 710.4 115.4 712 115.1 712.8 C114.8 713.7 114.3 714.2 113.8 714.9 C113.4 715.5 112.7 716.1 112.3 716.8 C111.9 717.5 111.9 718.7 111.3 719 C110.7 719.4 109.4 718.7 108.8 718.9 C108.1 719 107.9 719.8 107.3 719.7 C106.7 719.6 106 718.5 105.3 718.2 C104.6 717.9 103.7 718.3 103 717.9 C102.4 717.5 102.2 716.4 101.6 715.7 C101 715 100.2 714.4 99.7 713.5 C99.1 712.5 98.7 710.9 98.3 709.9 C97.9 708.9 97.1 708.3 97 707.3 C96.9 706.3 97.5 705.1 97.7 704 C97.8 702.8 97.8 701.7 97.9 700.4 Z" fill="#000" stroke="#000" stroke-width="1.5"/>
<path d="M306.6 648.5 C305.1 649.6 302 652.3 298 655.2 C294.1 658 287.6 661.8 282.8 665.6 C278.1 669.4 272.6 674.6 269.6 678 C266.6 681.3 265.5 683.6 264.8 685.5 C264.2 687.4 265.6 688.7 265.8 689.3" fill="none" stroke="#cdcdcd" stroke-width="1.9" stroke-linecap="round"/>
<path d="M311.3 651.4 C313.5 653 320.8 658 324.6 660.9 C328.4 663.7 331.6 665.6 334.1 668.5 C336.6 671.3 338.5 674.8 339.8 678 C341 681.1 341.4 685.9 341.7 687.4" fill="none" stroke="#cdcdcd" stroke-width="1.9" stroke-linecap="round"/>
<path d="M308.5 664.7 C310.8 665.9 318.1 670.7 322.7 672.3 C327.3 673.8 333.3 672.3 336 674.2 C338.7 676.1 338.4 682.1 338.8 683.6" fill="none" stroke="#cdcdcd" stroke-width="1.9" stroke-linecap="round"/>
<path d="M299.9 657.1 C298.3 659 293.6 665 290.4 668.5 C287.3 671.9 283.6 674.9 281 678 C278.3 681 275.4 685.1 274.3 686.5" fill="none" stroke="#cdcdcd" stroke-width="1.9" stroke-linecap="round"/>
<path d="M274.3 721.6 C275.4 723.2 278.6 727.6 281 731.1 C283.3 734.6 286 738.4 288.5 742.5 C291.1 746.6 294.2 751.3 296.1 755.7 C298 760.2 299.3 766.8 299.9 769" fill="none" stroke="#cdcdcd" stroke-width="1.9" stroke-linecap="round"/>
<path d="M338.8 721.6 C337.7 723.8 334.6 730.4 332.2 734.9 C329.8 739.3 327.1 744.4 324.6 748.2 C322.1 752 319.2 754.8 317 757.6 C314.8 760.5 312.3 764 311.3 765.2" fill="none" stroke="#cdcdcd" stroke-width="1.9" stroke-linecap="round"/>
<path d="M246.8 706.4 C248.1 705.8 253.8 704.2 254.4 702.6 C255 701 250.3 698.8 250.6 696.9 C250.9 695 255.3 692.2 256.3 691.2" fill="none" stroke="#cdcdcd" stroke-width="1.9" stroke-linecap="round"/>
<path d="M305.5 643.5 C307.1 643.2 309.6 644.5 311.9 644.8 C314.1 645 316.9 644.8 319 645 C321 645.2 322.4 645.4 324.2 645.8 C326 646.2 328.9 646.7 329.6 647.3 C330.4 647.9 329 648.8 328.7 649.5 C328.4 650.2 329 650.8 327.8 651.3 C326.7 651.8 323.6 652 321.8 652.4 C320 652.8 318.2 652.9 317.3 653.8 C316.3 654.7 316.7 656.5 316.2 657.7 C315.8 658.9 315 660 314.6 661.2 C314.2 662.4 313.9 664 313.8 665.1 C313.7 666.3 314.1 666.7 314 668.1 C313.9 669.5 313.4 671.8 312.9 673.5 C312.5 675.2 311.6 676.7 311.2 678.2 C310.9 679.6 310.7 680.9 310.6 682.2 C310.5 683.6 311.3 685.6 310.6 686.1 C309.8 686.6 307.3 685.4 306 685.3 C304.8 685.2 303.4 686.3 302.9 685.7 C302.4 685 302.8 682.9 303.1 681.3 C303.3 679.6 304.3 677.4 304.5 675.8 C304.7 674.2 304.3 673 304.4 671.5 C304.6 670 305.4 668.2 305.5 666.8 C305.6 665.3 305.2 664 304.9 662.6 C304.5 661.3 304.1 659.4 303.5 658.5 C303 657.7 302.3 658 301.5 657.5 C300.7 657.1 299.2 656.6 298.9 655.9 C298.6 655.1 299.3 654.1 299.5 653 C299.7 651.9 299.6 650.4 300.1 649.3 C300.6 648.1 301.4 647.1 302.3 646.1 C303.2 645.2 303.9 643.7 305.5 643.5 Z" fill="#cdcdcd" stroke="#cdcdcd" stroke-width="1.5"/>
<path d="M299.9 651.4 C301.8 650.9 307.5 649.1 311.3 648.5 C315.1 648 320.8 648.1 322.7 648" fill="none" stroke="#fff" stroke-width="1.1"/>
<path d="M306.6 660.9 C307 662.1 309.1 665.6 309.4 668.5 C309.7 671.3 308.6 676.4 308.5 678" fill="none" stroke="#fff" stroke-width="1.1"/>
<path d="M297.2 721 C298.3 720.4 301.2 721.1 303.5 721.3 C305.7 721.4 309.1 721 310.6 721.8 C312.1 722.6 312 724.4 312.4 725.8 C312.9 727.3 313.5 728.4 313.5 730.5 C313.5 732.7 312.7 736.1 312.3 738.7 C311.9 741.2 311 743.7 311.1 745.9 C311.2 748.1 312.5 750 312.8 752 C313.2 754 313.3 756.3 313.3 757.8 C313.2 759.2 313 759.6 312.6 760.8 C312.3 762.1 312.3 764.5 311.3 765.5 C310.3 766.5 307.8 766.2 306.4 766.7 C305 767.3 304.7 768.7 302.8 768.8 C300.8 769 297.2 767.7 294.9 767.4 C292.6 767.1 289.8 767.7 289 766.9 C288.2 766.1 289.7 763.9 290 762.5 C290.4 761 290.3 759.6 290.9 758.2 C291.4 756.8 292.5 755.3 293.5 753.9 C294.5 752.6 296.5 751.8 296.9 750.2 C297.3 748.6 296.3 746.5 296 744.5 C295.7 742.4 294.9 739.9 294.9 738.1 C294.9 736.3 295.5 735.2 296 733.7 C296.4 732.1 297.3 730.3 297.5 728.9 C297.7 727.4 297.1 726.4 297.1 725.1 C297 723.8 296.2 721.7 297.2 721 Z" fill="#cdcdcd" stroke="#cdcdcd" stroke-width="1.5"/>
<path d="M303.7 727.3 C304.2 729.2 306.6 734.9 306.6 738.7 C306.6 742.5 304.8 746.3 303.7 750.1 C302.6 753.9 300.6 759.5 299.9 761.4" fill="none" stroke="#fff" stroke-width="1.1"/>
<path d="M294.2 753.9 C295.2 754.2 298 754.2 299.9 755.7 C301.8 757.3 304.7 762.1 305.6 763.3" fill="none" stroke="#fff" stroke-width="1.1"/>
<path d="M250 690 C250.8 689.1 253.2 688.9 254.9 688.5 C256.6 688.2 258.6 687.8 260.3 687.8 C262 687.8 263.6 688.3 265.2 688.6 C266.8 688.9 269.1 686.7 269.9 689.6 C270.8 692.6 270.3 700.7 270.4 706.1 C270.5 711.5 271.4 719.2 270.6 721.9 C269.7 724.6 266.9 722 265.2 722.3 C263.5 722.7 262 724.3 260.5 724.3 C259 724.2 257.6 722.7 256.3 722.2 C255.1 721.8 253.7 722.4 252.9 721.6 C252 720.8 251.9 718.8 251.3 717.4 C250.7 716 249.6 714.7 249.1 713.1 C248.5 711.6 248.4 709.6 248 708.2 C247.6 706.9 246.4 706.3 246.6 705 C246.9 703.8 248.6 701.8 249.3 700.5 C250 699.1 250.9 698.1 251.1 697 C251.2 695.8 250.3 694.9 250.1 693.7 C249.9 692.6 249.2 690.8 250 690 Z" fill="#cdcdcd" stroke="#cdcdcd" stroke-width="1.5"/>
<path d="M335.9 691.7 C337.1 689.1 340.9 690.8 343.1 690.4 C345.2 690 347 689.1 348.9 689.3 C350.8 689.6 352.6 690.9 354.5 691.9 C356.4 692.8 358.8 693.7 360.2 695 C361.7 696.4 362.5 698.4 363.1 700 C363.8 701.6 364.2 702.9 364.3 704.4 C364.4 705.9 364.1 707.5 363.7 709.2 C363.3 711 363.3 713.6 362 714.8 C360.8 716 358.3 715.8 356 716.6 C353.8 717.3 350.8 718.8 348.7 719.2 C346.7 719.7 345.6 719.1 343.6 719.2 C341.7 719.4 338.4 722.5 337.1 720.3 C335.8 718 336.1 710.3 335.9 705.5 C335.7 700.8 334.7 694.2 335.9 691.7 Z" fill="#cdcdcd" stroke="#cdcdcd" stroke-width="1.5"/>
<path d="M268.3 691.6 C269.3 690.3 272.2 690.2 274.2 689.5 C276.2 688.7 278.3 687.7 280.4 687.1 C282.4 686.6 284.4 686.5 286.3 686.3 C288.3 686.2 290.5 686.3 292.1 686.3 C293.6 686.2 294.3 686 295.5 685.9 C296.7 685.9 297.5 685.9 299.4 686 C301.3 686 304.5 685.8 306.9 686.1 C309.3 686.4 311.8 687.5 313.7 687.7 C315.6 688 316.4 687.6 318.3 687.8 C320.2 688 323 688.7 324.9 689 C326.8 689.3 327.9 689 329.8 689.5 C331.7 689.9 335.1 691.2 336.4 691.9 C337.6 692.6 336.6 692.7 337.1 693.5 C337.7 694.3 339.4 694.1 339.7 696.7 C340.1 699.2 339 705 339 708.8 C338.9 712.7 340.1 717.9 339.2 719.9 C338.2 721.9 335.2 720.5 333.2 720.8 C331.1 721 329.4 721.4 326.9 721.4 C324.4 721.4 320.9 720.8 318.1 721 C315.3 721.2 313 722.4 310 722.5 C306.9 722.7 303.1 722.2 299.7 722.2 C296.3 722.1 292.9 722.1 289.8 722 C286.7 721.9 284.2 721.6 281.1 721.7 C278.1 721.8 273.3 722.9 271.3 722.4 C269.4 722 270.1 720 269.5 718.9 C269 717.8 268.2 717.3 268 715.7 C267.9 714.2 268.7 711.5 268.5 709.4 C268.3 707.3 266.7 705.2 266.6 703.1 C266.6 701.1 267.9 699.1 268.2 697.1 C268.5 695.2 267.3 692.9 268.3 691.6 Z" fill="#808080" stroke="#808080" stroke-width="1.5"/>
<ellipse cx="298" cy="696.2" rx="3.4" ry="4.2" fill="none" stroke="#4d4d4d" stroke-width="1.5"/>
<ellipse cx="316.0" cy="707.2" rx="5.0" ry="3.8" fill="#4d4d4d" stroke="#4d4d4d" stroke-width="1.5"/>
<ellipse cx="301.5" cy="714.5" rx="3.0" ry="3.2" fill="none" stroke="#4d4d4d" stroke-width="1.5"/>
<ellipse cx="308.6" cy="683.5" rx="1.8" ry="3.0" fill="none" stroke="#4d4d4d" stroke-width="1.5"/>
<ellipse cx="303" cy="704" rx="4.5" ry="8" fill="#4d4d4d" stroke="#4d4d4d" stroke-width="1.5"/>
<path d="M303.4 691 C303.9 689.7 305 689.2 306 689.4 C306.9 689.6 308.4 690.2 309 691.9 C309.6 693.7 309.1 698.3 309.7 700 C310.3 701.6 311.7 701.2 312.7 701.8 C313.7 702.3 314.9 702.5 315.9 703.3 C316.8 704.1 318.4 705.5 318.5 706.5 C318.6 707.6 317.3 709.1 316.3 709.7 C315.2 710.4 313.1 709.6 312 710.3 C311 711 310.4 712.4 310 713.9 C309.6 715.4 310.5 718.3 309.8 719.2 C309.1 720.2 306.9 720.5 305.9 719.6 C305 718.7 304.5 715.5 304.1 714 C303.6 712.6 303.9 711.6 303.2 710.8 C302.4 710 300.5 710.2 299.7 709.2 C298.9 708.3 297.9 706.1 298.2 704.9 C298.6 703.7 301.1 703.3 301.9 701.9 C302.7 700.6 302.8 698.7 303 696.9 C303.3 695 302.9 692.2 303.4 691 Z" fill="#000" stroke="#000" stroke-width="0.4"/>
<path d="M509.4 668.5 C511 669.4 516.1 672.1 518.9 674.2 C521.7 676.2 524 678.9 526.5 680.8 C529 682.7 533.1 683.5 534.1 685.5 C535 687.6 534.1 692.3 532.2 693.1 C530.3 693.9 525.5 691.8 522.7 690.3 C519.9 688.8 516.4 685.1 515.1 684" fill="none" stroke="#cdcdcd" stroke-width="2.0" stroke-linecap="round"/>
<path d="M515.1 689.3 C512.6 690.6 505.6 695.3 499.9 696.9 C494.2 698.5 485.7 697.9 481 698.8 C476.2 699.8 472.4 701.4 471.5 702.6 C470.5 703.9 472.1 706.1 475.3 706.4 C478.4 706.7 487.3 705.5 490.4 704.5 C493.6 703.6 493.6 701.4 494.2 700.7" fill="none" stroke="#cdcdcd" stroke-width="1.9" stroke-linecap="round"/>
<path d="M517 695 C518 695.3 521.1 695.7 522.7 696.9 C524.3 698.2 525.9 701.7 526.5 702.6" fill="none" stroke="#cdcdcd" stroke-width="1.9" stroke-linecap="round"/>
<path d="M505.6 717.8 C507.2 718.1 512.6 718.7 515.1 719.7 C517.6 720.6 520.8 722.5 520.8 723.5 C520.8 724.4 516.1 725.1 515.1 725.4" fill="none" stroke="#cdcdcd" stroke-width="1.9" stroke-linecap="round"/>
<path d="M454.1 647.6 C455.5 647.2 459.7 647 462.5 646.6 C465.4 646.1 468 645.2 471.1 644.8 C474.3 644.4 478.2 644.3 481.5 644.1 C484.8 644 487.9 644 491 644.1 C494.1 644.1 496.9 644.3 500 644.4 C503.1 644.5 507.5 644.1 509.5 644.6 C511.5 645 511.3 646.1 512.1 647 C512.9 647.9 513.9 648.9 514.2 649.9 C514.4 650.9 513.6 651.7 513.8 653 C513.9 654.3 515.1 656.1 515.1 657.5 C515.1 658.8 514.1 659.8 513.8 661 C513.4 662.3 513.3 663.7 513 665 C512.8 666.3 512.6 667.5 512 668.8 C511.4 670 510.2 671.3 509.4 672.6 C508.7 673.9 508.3 675.2 507.6 676.5 C507 677.8 505.8 679.2 505.6 680.3 C505.3 681.4 506.1 682.2 506.2 683.1 C506.3 684 506.6 685.4 506 685.9 C505.5 686.5 503.8 686 502.9 686.3 C502 686.6 502 687.4 500.5 687.8 C499 688.2 495.7 688.4 493.7 688.7 C491.6 689 489.8 689.1 488.4 689.4 C487 689.6 486.5 689.8 485.3 690.2 C484.1 690.6 483.6 691.5 481.4 691.7 C479.3 691.8 475.1 691.4 472.2 691.3 C469.3 691.1 465.7 691.5 464.2 690.8 C462.7 690 463.7 688.2 463.4 686.9 C463.2 685.5 463.1 683.8 462.6 682.5 C462 681.2 460.7 680.2 459.9 678.9 C459.1 677.6 458.5 676.2 457.7 674.7 C457 673.2 456 671.3 455.4 669.8 C454.7 668.3 454.3 666.8 453.8 665.6 C453.3 664.3 453 663.5 452.4 662.4 C451.8 661.3 450.3 660.1 450 658.9 C449.8 657.7 450.6 656.5 451 655.3 C451.5 654 452.1 652.5 452.6 651.5 C453.1 650.4 453.6 649.8 453.9 649.2 C454.1 648.5 452.6 648 454.1 647.6 Z" fill="#cdcdcd" stroke="#cdcdcd" stroke-width="1.5"/>
<path d="M455 713.5 C456.6 712.6 460.4 712.6 463.2 712.1 C466 711.5 469.1 710.6 472 710.1 C474.9 709.6 477.6 709.5 480.5 709.3 C483.4 709.2 486.4 708.9 489.1 709.2 C491.8 709.4 493.9 710.2 496.7 710.7 C499.5 711.2 503.3 711.1 505.8 711.9 C508.2 712.7 509.5 714.3 511.4 715.5 C513.2 716.7 515.6 717.9 516.9 719.3 C518.1 720.7 518.1 722.5 518.8 724.2 C519.5 725.8 520.9 727.4 521.1 729.1 C521.4 730.8 520.6 732.7 520.3 734.4 C520 736.1 520 737.8 519.4 739.2 C518.7 740.6 517.2 741.5 516.3 742.7 C515.4 743.9 516 745.4 514 746.3 C512.1 747.2 507.4 747.6 504.4 748.2 C501.5 748.7 499.2 749.2 496.2 749.7 C493.1 750.1 489.3 750.3 486.2 750.8 C483 751.3 480.1 752.4 477.4 752.7 C474.7 753 472.4 752.7 469.8 752.6 C467.1 752.6 463.3 752.8 461.4 752.5 C459.5 752.2 459.5 751.5 458.4 750.7 C457.2 749.9 455.3 749 454.3 747.8 C453.4 746.5 453.1 744.5 452.5 743 C452 741.5 451.2 740.5 451.1 738.8 C451 737.1 451.6 735 451.8 733 C452 731.1 452.3 728.9 452.4 727.3 C452.5 725.8 452.5 725 452.3 723.8 C452.1 722.6 450.9 721.3 451.1 720.2 C451.3 719.1 452.7 718.4 453.4 717.2 C454 716.1 453.3 714.3 455 713.5 Z" fill="#cdcdcd" stroke="#cdcdcd" stroke-width="1.5"/>
<path d="M526.6 694 C528.2 693 531.4 692.6 534 691.9 C536.6 691.2 539.6 689.9 542.2 689.7 C544.8 689.6 547 690.6 549.5 690.7 C552.1 690.9 555.3 690 557.3 690.7 C559.2 691.3 559.6 693.7 561.2 694.7 C562.8 695.7 565.5 695.9 566.6 696.6 C567.8 697.4 567.7 698.4 568.1 699.4 C568.5 700.4 569 701 569 702.5 C569 704.1 568.2 706.6 567.9 708.8 C567.6 711.1 568.3 714.7 567.3 716.1 C566.3 717.4 563.5 716.8 561.9 717 C560.2 717.2 559.6 717.1 557.4 717.3 C555.3 717.4 551.6 717.6 549 717.8 C546.4 718 544.4 718.6 541.9 718.6 C539.4 718.7 536.5 718.1 534 718 C531.5 717.9 528.6 718.5 526.8 718.1 C525.1 717.7 524.6 716.4 523.6 715.3 C522.5 714.3 520.7 713.5 520.5 711.9 C520.3 710.4 522 708 522.3 706.1 C522.6 704.1 521.9 701.6 522.3 700.2 C522.7 698.7 524.1 698.5 524.8 697.5 C525.5 696.5 525.1 694.9 526.6 694 Z" fill="#cdcdcd" stroke="#cdcdcd" stroke-width="1.5"/>
<ellipse cx="479.1" cy="648" rx="3.5" ry="1.0" fill="#fff"/>
<ellipse cx="499.9" cy="650.4" rx="2.5" ry="0.8" fill="#fff"/>
<ellipse cx="505.6" cy="662.8" rx="2.0" ry="1.0" fill="#fff"/>
<ellipse cx="465.8" cy="686.5" rx="3.0" ry="1.0" fill="#fff"/>
<ellipse cx="507.5" cy="678" rx="2.0" ry="3.0" fill="#fff"/>
<ellipse cx="458.2" cy="678" rx="1.5" ry="1.2" fill="#fff"/>
<ellipse cx="511.3" cy="723.5" rx="2.5" ry="0.8" fill="#fff"/>
<ellipse cx="465.8" cy="746.3" rx="3.0" ry="0.8" fill="#fff"/>
<path d="M492.2 688.3 C492.6 687.2 493.7 688.1 494.5 688 C495.4 687.8 496.5 687.3 497.3 687.4 C498.1 687.6 498.5 688.3 499.2 688.8 C499.9 689.3 500.9 689.4 501.4 690.2 C502 691.1 502.3 692.5 502.5 693.6 C502.7 694.8 502.9 696.1 502.7 697.3 C502.6 698.5 502 699.8 501.5 701.1 C501.1 702.3 500.1 703.8 500 705 C500 706.2 501 707.1 501.3 708.4 C501.6 709.6 501.9 711.3 501.8 712.3 C501.7 713.3 501 713.4 500.6 714.1 C500.2 714.9 500 716.3 499.5 716.7 C498.9 717.1 497.9 716.4 497.2 716.5 C496.4 716.5 495.4 717.3 494.9 716.8 C494.3 716.4 494 714.9 493.7 713.7 C493.4 712.6 493.3 711.2 493.1 709.8 C493 708.4 492.7 706.9 492.6 705.3 C492.5 703.7 492.7 701.8 492.6 700 C492.6 698.2 492.4 696.5 492.3 694.5 C492.2 692.6 491.9 689.4 492.2 688.3 Z" fill="#808080" stroke="#808080" stroke-width="0.8"/>
<path d="M503.3 699 C503.8 698.1 505.3 699.3 506.5 699.5 C507.6 699.7 509.1 700.2 510.2 700.3 C511.2 700.4 512 700.3 513 700.3 C513.9 700.4 515 700.6 515.9 700.7 C516.9 700.9 517.8 701.1 518.6 701 C519.4 701 520.2 700.7 520.8 700.7 C521.4 700.6 521.8 700.6 522.3 700.5 C522.9 700.4 523.6 700 524 699.9 C524.5 699.9 524.7 700.1 525.2 700.3 C525.8 700.4 526.7 700.4 527.2 700.8 C527.8 701.3 527.9 702.3 528.3 703 C528.7 703.8 529.4 704.4 529.5 705.1 C529.5 705.9 528.8 706.8 528.5 707.6 C528.2 708.4 528 709.1 527.7 709.8 C527.5 710.5 527.4 711.1 527.1 711.8 C526.8 712.5 526.3 713.6 525.8 714 C525.3 714.4 524.7 714 524.1 714.2 C523.5 714.4 522.7 715.2 522.1 715.1 C521.5 714.9 521.1 713.7 520.7 713 C520.3 712.4 520.2 711.4 519.7 711 C519.2 710.6 518.4 710.7 517.6 710.7 C516.8 710.6 515.8 710.6 514.9 710.7 C514 710.8 513.1 711.1 512.3 711.2 C511.5 711.4 510.8 711.6 510 711.7 C509.2 711.8 508.2 711.8 507.2 711.8 C506.3 711.9 504.8 713.1 504.2 712 C503.5 710.9 503.4 707.5 503.2 705.4 C503.1 703.2 502.7 700 503.3 699 Z" fill="#808080" stroke="#808080" stroke-width="0.8"/>
<path d="M496.8 706.3 C496.6 705.3 497 703.5 497.3 702.1 C497.5 700.8 497.9 699.2 498.2 698.1 C498.6 697.1 498.9 696.6 499.4 695.9 C499.9 695.3 500.6 694.7 501.1 694.3 C501.7 693.9 502.1 693.6 502.6 693.4 C503.1 693.1 503.4 692.7 503.9 692.6 C504.4 692.6 505.1 693.1 505.6 693.3 C506.1 693.5 506.6 693.7 507 694.1 C507.4 694.4 507.8 694.9 508.1 695.5 C508.4 696.1 508.6 696.8 508.8 697.6 C509.1 698.5 509.4 699.6 509.5 700.5 C509.7 701.3 509.4 702.3 509.7 702.8 C510.1 703.4 511 703.4 511.5 703.6 C512 703.9 512.5 703.9 512.8 704.2 C513.2 704.4 513.3 704.9 513.6 705.4 C513.9 705.8 514.5 706.3 514.5 706.8 C514.5 707.3 513.8 707.9 513.4 708.4 C513 708.9 512.4 709.4 511.9 709.8 C511.4 710.3 511 710.8 510.5 711.2 C510 711.6 509.2 711.6 508.8 712 C508.5 712.5 508.6 713.2 508.5 713.9 C508.3 714.6 507.9 715.6 507.8 716.1 C507.7 716.6 507.7 716.6 507.7 716.9 C507.7 717.1 507.8 717.4 507.6 717.6 C507.4 717.7 506.9 717.7 506.4 717.6 C506 717.6 505.3 717.6 504.9 717.2 C504.4 716.7 504.1 715.6 503.6 714.9 C503.1 714.1 502.4 713.3 501.9 712.8 C501.3 712.2 500.9 711.9 500.4 711.5 C500 711 499.4 710.6 499 710 C498.6 709.4 498.4 708.4 498 707.8 C497.7 707.2 496.9 707.2 496.8 706.3 Z" fill="#000" stroke="#000" stroke-width="0.8"/>
<line x1="46" y1="769.3" x2="170.8" y2="769.3" stroke="#5a5a5a" stroke-width="1.6" stroke-linecap="square"/>
<line x1="46" y1="769.3" x2="46" y2="644.5" stroke="#5a5a5a" stroke-width="1.6" stroke-linecap="square"/>
<line x1="46" y1="769.3" x2="46" y2="767.3" stroke="#5a5a5a" stroke-width="1.2"/>
<text x="0" y="0" font-size="9.3" text-anchor="middle" fill="#262626" transform="translate(46 780.3) scale(1 1.11)">-50</text>
<line x1="108.4" y1="769.3" x2="108.4" y2="767.3" stroke="#5a5a5a" stroke-width="1.2"/>
<text x="0" y="0" font-size="9.3" text-anchor="middle" fill="#262626" transform="translate(108.4 780.3) scale(1 1.11)">0</text>
<line x1="170.8" y1="769.3" x2="170.8" y2="767.3" stroke="#5a5a5a" stroke-width="1.2"/>
<text x="0" y="0" font-size="9.3" text-anchor="middle" fill="#262626" transform="translate(170.8 780.3) scale(1 1.11)">50</text>
<line x1="46" y1="769.3" x2="48" y2="769.3" stroke="#5a5a5a" stroke-width="1.2"/>
<text x="0" y="0" font-size="9.3" text-anchor="end" fill="#262626" transform="translate(43.2 772.8) scale(1 1.11)">-50</text>
<line x1="46" y1="706.9" x2="48" y2="706.9" stroke="#5a5a5a" stroke-width="1.2"/>
<text x="0" y="0" font-size="9.3" text-anchor="end" fill="#262626" transform="translate(43.2 710.4) scale(1 1.11)">0</text>
<line x1="46" y1="644.5" x2="48" y2="644.5" stroke="#5a5a5a" stroke-width="1.2"/>
<text x="0" y="0" font-size="9.3" text-anchor="end" fill="#262626" transform="translate(43.2 648) scale(1 1.11)">50</text>
<text x="108.4" y="792.3" font-size="10.5" text-anchor="middle" fill="#262626"><tspan font-style="italic">X</tspan> Error (µm)</text>
<text x="0" y="0" font-size="10.5" text-anchor="middle" fill="#262626" transform="translate(24.5 707) rotate(-90)"><tspan font-style="italic">Y</tspan> Error (µm)</text>
<text x="5.1" y="643.8" font-size="14.5" font-weight="bold" fill="#000">j</text>
<line x1="244.6" y1="769.3" x2="369.6" y2="769.3" stroke="#5a5a5a" stroke-width="1.6" stroke-linecap="square"/>
<line x1="244.6" y1="769.3" x2="244.6" y2="643.7" stroke="#5a5a5a" stroke-width="1.6" stroke-linecap="square"/>
<line x1="244.6" y1="769.3" x2="244.6" y2="767.3" stroke="#5a5a5a" stroke-width="1.2"/>
<text x="0" y="0" font-size="9.3" text-anchor="middle" fill="#262626" transform="translate(244.6 780.3) scale(1 1.11)">-50</text>
<line x1="307.1" y1="769.3" x2="307.1" y2="767.3" stroke="#5a5a5a" stroke-width="1.2"/>
<text x="0" y="0" font-size="9.3" text-anchor="middle" fill="#262626" transform="translate(307.1 780.3) scale(1 1.11)">0</text>
<line x1="369.6" y1="769.3" x2="369.6" y2="767.3" stroke="#5a5a5a" stroke-width="1.2"/>
<text x="0" y="0" font-size="9.3" text-anchor="middle" fill="#262626" transform="translate(369.6 780.3) scale(1 1.11)">50</text>
<line x1="244.6" y1="769.3" x2="246.6" y2="769.3" stroke="#5a5a5a" stroke-width="1.2"/>
<text x="0" y="0" font-size="9.3" text-anchor="end" fill="#262626" transform="translate(241.8 772.8) scale(1 1.11)">-50</text>
<line x1="244.6" y1="706.5" x2="246.6" y2="706.5" stroke="#5a5a5a" stroke-width="1.2"/>
<text x="0" y="0" font-size="9.3" text-anchor="end" fill="#262626" transform="translate(241.8 710) scale(1 1.11)">0</text>
<line x1="244.6" y1="643.7" x2="246.6" y2="643.7" stroke="#5a5a5a" stroke-width="1.2"/>
<text x="0" y="0" font-size="9.3" text-anchor="end" fill="#262626" transform="translate(241.8 647.2) scale(1 1.11)">50</text>
<text x="307.1" y="791.8" font-size="10.5" text-anchor="middle" fill="#262626"><tspan font-style="italic">X</tspan> Error (µm)</text>
<text x="0" y="0" font-size="10.5" text-anchor="middle" fill="#262626" transform="translate(222.5 706.2) rotate(-90)"><tspan font-style="italic">Y</tspan> Error (µm)</text>
<text x="200.8" y="643" font-size="14.5" font-weight="bold" fill="#000">l</text>
<line x1="444.6" y1="769.3" x2="568.7" y2="769.3" stroke="#5a5a5a" stroke-width="1.6" stroke-linecap="square"/>
<line x1="444.6" y1="769.3" x2="444.6" y2="643.7" stroke="#5a5a5a" stroke-width="1.6" stroke-linecap="square"/>
<line x1="444.6" y1="769.3" x2="444.6" y2="767.3" stroke="#5a5a5a" stroke-width="1.2"/>
<text x="0" y="0" font-size="9.3" text-anchor="middle" fill="#262626" transform="translate(444.6 780.3) scale(1 1.11)">-50</text>
<line x1="506.7" y1="769.3" x2="506.7" y2="767.3" stroke="#5a5a5a" stroke-width="1.2"/>
<text x="0" y="0" font-size="9.3" text-anchor="middle" fill="#262626" transform="translate(506.7 780.3) scale(1 1.11)">0</text>
<line x1="568.7" y1="769.3" x2="568.7" y2="767.3" stroke="#5a5a5a" stroke-width="1.2"/>
<text x="0" y="0" font-size="9.3" text-anchor="middle" fill="#262626" transform="translate(568.7 780.3) scale(1 1.11)">50</text>
<line x1="444.6" y1="769.3" x2="446.6" y2="769.3" stroke="#5a5a5a" stroke-width="1.2"/>
<text x="0" y="0" font-size="9.3" text-anchor="end" fill="#262626" transform="translate(441.8 772.8) scale(1 1.11)">-50</text>
<line x1="444.6" y1="706.5" x2="446.6" y2="706.5" stroke="#5a5a5a" stroke-width="1.2"/>
<text x="0" y="0" font-size="9.3" text-anchor="end" fill="#262626" transform="translate(441.8 710) scale(1 1.11)">0</text>
<line x1="444.6" y1="643.7" x2="446.6" y2="643.7" stroke="#5a5a5a" stroke-width="1.2"/>
<text x="0" y="0" font-size="9.3" text-anchor="end" fill="#262626" transform="translate(441.8 647.2) scale(1 1.11)">50</text>
<text x="506.6" y="791.8" font-size="10.5" text-anchor="middle" fill="#262626"><tspan font-style="italic">X</tspan> Error (µm)</text>
<text x="0" y="0" font-size="10.5" text-anchor="middle" fill="#262626" transform="translate(422.5 706.2) rotate(-90)"><tspan font-style="italic">Y</tspan> Error (µm)</text>
<text x="400.5" y="643" font-size="14.5" font-weight="bold" fill="#000">n</text>
</svg></body></html>
